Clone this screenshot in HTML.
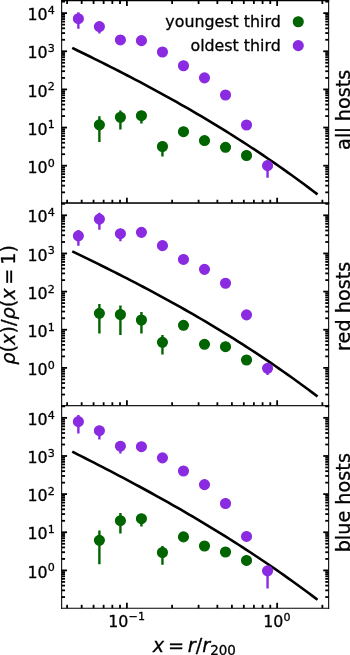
<!DOCTYPE html>
<html><head><meta charset="utf-8"><title>figure</title>
<style>html,body{margin:0;padding:0;background:#fff;}body{width:350px;height:655px;overflow:hidden;}svg{display:block;}
text{font-family:"DejaVu Sans","Liberation Sans",sans-serif;stroke:#000;stroke-width:0.3px;}</style></head>
<body>
<svg width="350" height="655" viewBox="0 0 350 655" version="1.1">
 <defs>
  <style type="text/css">*{stroke-linejoin: round; stroke-linecap: butt}</style>
 </defs>
 <g id="figure_1">
  <g id="patch_1">
   <path d="M 0 655 
L 350 655 
L 350 0 
L 0 0 
z
" style="fill: #ffffff"/>
  </g>
  <g id="axes_1">
   <g id="patch_2">
    <path d="M 61.65 203.133333 
L 328.65 203.133333 
L 328.65 0.6 
L 61.65 0.6 
z
" style="fill: #ffffff"/>
   </g>
   <g id="matplotlib.axis_1">
    <g id="xtick_1">
     <g id="line2d_1">
      <defs>
       <path id="m767da9f0d0" d="M 0 0 
L 0 -5.4 
" style="stroke: #000000; stroke-width: 1.8"/>
      </defs>
      <g>
       <use href="#m767da9f0d0" x="126.9" y="203.133333" style="stroke: #000000; stroke-width: 1.8"/>
      </g>
     </g>
     <g id="line2d_2">
      <defs>
       <path id="m75ea3fade5" d="M 0 0 
L 0 5.4 
" style="stroke: #000000; stroke-width: 1.8"/>
      </defs>
      <g>
       <use href="#m75ea3fade5" x="126.9" y="0.6" style="stroke: #000000; stroke-width: 1.8"/>
      </g>
     </g>
    </g>
    <g id="xtick_2">
     <g id="line2d_3">
      <g>
       <use href="#m767da9f0d0" x="277.15" y="203.133333" style="stroke: #000000; stroke-width: 1.8"/>
      </g>
     </g>
     <g id="line2d_4">
      <g>
       <use href="#m75ea3fade5" x="277.15" y="0.6" style="stroke: #000000; stroke-width: 1.8"/>
      </g>
     </g>
    </g>
    <g id="xtick_3">
     <g id="line2d_5">
      <defs>
       <path id="m100604479f" d="M 0 0 
L 0 -3.4 
" style="stroke: #000000; stroke-width: 1.8"/>
      </defs>
      <g>
       <use href="#m100604479f" x="67.109514" y="203.133333" style="stroke: #000000; stroke-width: 1.8"/>
      </g>
     </g>
     <g id="line2d_6">
      <defs>
       <path id="m76631c6128" d="M 0 0 
L 0 3.4 
" style="stroke: #000000; stroke-width: 1.8"/>
      </defs>
      <g>
       <use href="#m76631c6128" x="67.109514" y="0.6" style="stroke: #000000; stroke-width: 1.8"/>
      </g>
     </g>
    </g>
    <g id="xtick_4">
     <g id="line2d_7">
      <g>
       <use href="#m100604479f" x="81.670243" y="203.133333" style="stroke: #000000; stroke-width: 1.8"/>
      </g>
     </g>
     <g id="line2d_8">
      <g>
       <use href="#m76631c6128" x="81.670243" y="0.6" style="stroke: #000000; stroke-width: 1.8"/>
      </g>
     </g>
    </g>
    <g id="xtick_5">
     <g id="line2d_9">
      <g>
       <use href="#m100604479f" x="93.567225" y="203.133333" style="stroke: #000000; stroke-width: 1.8"/>
      </g>
     </g>
     <g id="line2d_10">
      <g>
       <use href="#m76631c6128" x="93.567225" y="0.6" style="stroke: #000000; stroke-width: 1.8"/>
      </g>
     </g>
    </g>
    <g id="xtick_6">
     <g id="line2d_11">
      <g>
       <use href="#m100604479f" x="103.625981" y="203.133333" style="stroke: #000000; stroke-width: 1.8"/>
      </g>
     </g>
     <g id="line2d_12">
      <g>
       <use href="#m76631c6128" x="103.625981" y="0.6" style="stroke: #000000; stroke-width: 1.8"/>
      </g>
     </g>
    </g>
    <g id="xtick_7">
     <g id="line2d_13">
      <g>
       <use href="#m100604479f" x="112.339271" y="203.133333" style="stroke: #000000; stroke-width: 1.8"/>
      </g>
     </g>
     <g id="line2d_14">
      <g>
       <use href="#m76631c6128" x="112.339271" y="0.6" style="stroke: #000000; stroke-width: 1.8"/>
      </g>
     </g>
    </g>
    <g id="xtick_8">
     <g id="line2d_15">
      <g>
       <use href="#m100604479f" x="120.024937" y="203.133333" style="stroke: #000000; stroke-width: 1.8"/>
      </g>
     </g>
     <g id="line2d_16">
      <g>
       <use href="#m76631c6128" x="120.024937" y="0.6" style="stroke: #000000; stroke-width: 1.8"/>
      </g>
     </g>
    </g>
    <g id="xtick_9">
     <g id="line2d_17">
      <g>
       <use href="#m100604479f" x="172.129757" y="203.133333" style="stroke: #000000; stroke-width: 1.8"/>
      </g>
     </g>
     <g id="line2d_18">
      <g>
       <use href="#m76631c6128" x="172.129757" y="0.6" style="stroke: #000000; stroke-width: 1.8"/>
      </g>
     </g>
    </g>
    <g id="xtick_10">
     <g id="line2d_19">
      <g>
       <use href="#m100604479f" x="198.587469" y="203.133333" style="stroke: #000000; stroke-width: 1.8"/>
      </g>
     </g>
     <g id="line2d_20">
      <g>
       <use href="#m76631c6128" x="198.587469" y="0.6" style="stroke: #000000; stroke-width: 1.8"/>
      </g>
     </g>
    </g>
    <g id="xtick_11">
     <g id="line2d_21">
      <g>
       <use href="#m100604479f" x="217.359514" y="203.133333" style="stroke: #000000; stroke-width: 1.8"/>
      </g>
     </g>
     <g id="line2d_22">
      <g>
       <use href="#m76631c6128" x="217.359514" y="0.6" style="stroke: #000000; stroke-width: 1.8"/>
      </g>
     </g>
    </g>
    <g id="xtick_12">
     <g id="line2d_23">
      <g>
       <use href="#m100604479f" x="231.920243" y="203.133333" style="stroke: #000000; stroke-width: 1.8"/>
      </g>
     </g>
     <g id="line2d_24">
      <g>
       <use href="#m76631c6128" x="231.920243" y="0.6" style="stroke: #000000; stroke-width: 1.8"/>
      </g>
     </g>
    </g>
    <g id="xtick_13">
     <g id="line2d_25">
      <g>
       <use href="#m100604479f" x="243.817225" y="203.133333" style="stroke: #000000; stroke-width: 1.8"/>
      </g>
     </g>
     <g id="line2d_26">
      <g>
       <use href="#m76631c6128" x="243.817225" y="0.6" style="stroke: #000000; stroke-width: 1.8"/>
      </g>
     </g>
    </g>
    <g id="xtick_14">
     <g id="line2d_27">
      <g>
       <use href="#m100604479f" x="253.875981" y="203.133333" style="stroke: #000000; stroke-width: 1.8"/>
      </g>
     </g>
     <g id="line2d_28">
      <g>
       <use href="#m76631c6128" x="253.875981" y="0.6" style="stroke: #000000; stroke-width: 1.8"/>
      </g>
     </g>
    </g>
    <g id="xtick_15">
     <g id="line2d_29">
      <g>
       <use href="#m100604479f" x="262.589271" y="203.133333" style="stroke: #000000; stroke-width: 1.8"/>
      </g>
     </g>
     <g id="line2d_30">
      <g>
       <use href="#m76631c6128" x="262.589271" y="0.6" style="stroke: #000000; stroke-width: 1.8"/>
      </g>
     </g>
    </g>
    <g id="xtick_16">
     <g id="line2d_31">
      <g>
       <use href="#m100604479f" x="270.274937" y="203.133333" style="stroke: #000000; stroke-width: 1.8"/>
      </g>
     </g>
     <g id="line2d_32">
      <g>
       <use href="#m76631c6128" x="270.274937" y="0.6" style="stroke: #000000; stroke-width: 1.8"/>
      </g>
     </g>
    </g>
    <g id="xtick_17">
     <g id="line2d_33">
      <g>
       <use href="#m100604479f" x="322.379757" y="203.133333" style="stroke: #000000; stroke-width: 1.8"/>
      </g>
     </g>
     <g id="line2d_34">
      <g>
       <use href="#m76631c6128" x="322.379757" y="0.6" style="stroke: #000000; stroke-width: 1.8"/>
      </g>
     </g>
    </g>
   </g>
   <g id="matplotlib.axis_2">
    <g id="ytick_1">
     <g id="line2d_35">
      <defs>
       <path id="m73b3d7dea5" d="M 0 0 
L 5.4 0 
" style="stroke: #000000; stroke-width: 1.8"/>
      </defs>
      <g>
       <use href="#m73b3d7dea5" x="61.65" y="165.69" style="stroke: #000000; stroke-width: 1.8"/>
      </g>
     </g>
     <g id="line2d_36">
      <defs>
       <path id="m522f3f3dfc" d="M 0 0 
L -5.4 0 
" style="stroke: #000000; stroke-width: 1.8"/>
      </defs>
      <g>
       <use href="#m522f3f3dfc" x="328.65" y="165.69" style="stroke: #000000; stroke-width: 1.8"/>
      </g>
     </g>
     <g id="text_1">
      <g transform="translate(27.454 173.411762)">
       <text>
        <tspan x="0" y="-0.5625" style="font-size: 15.85px; font-family: 'DejaVu Sans'">1</tspan>
        <tspan x="10.100159" y="-0.5625" style="font-size: 15.85px; font-family: 'DejaVu Sans'">0</tspan>
        <tspan x="20.353442" y="-6.6875" style="font-size: 11.095px; font-family: 'DejaVu Sans'">0</tspan>
       </text>
      </g>
     </g>
    </g>
    <g id="ytick_2">
     <g id="line2d_37">
      <g>
       <use href="#m73b3d7dea5" x="61.65" y="127.55" style="stroke: #000000; stroke-width: 1.8"/>
      </g>
     </g>
     <g id="line2d_38">
      <g>
       <use href="#m522f3f3dfc" x="328.65" y="127.55" style="stroke: #000000; stroke-width: 1.8"/>
      </g>
     </g>
     <g id="text_2">
      <g transform="translate(27.454 135.271762)">
       <text>
        <tspan x="0" y="-0.704688" style="font-size: 15.85px; font-family: 'DejaVu Sans'">1</tspan>
        <tspan x="10.100159" y="-0.704688" style="font-size: 15.85px; font-family: 'DejaVu Sans'">0</tspan>
        <tspan x="20.353442" y="-6.829688" style="font-size: 11.095px; font-family: 'DejaVu Sans'">1</tspan>
       </text>
      </g>
     </g>
    </g>
    <g id="ytick_3">
     <g id="line2d_39">
      <g>
       <use href="#m73b3d7dea5" x="61.65" y="89.41" style="stroke: #000000; stroke-width: 1.8"/>
      </g>
     </g>
     <g id="line2d_40">
      <g>
       <use href="#m522f3f3dfc" x="328.65" y="89.41" style="stroke: #000000; stroke-width: 1.8"/>
      </g>
     </g>
     <g id="text_3">
      <g transform="translate(27.454 97.131762)">
       <text>
        <tspan x="0" y="-0.5625" style="font-size: 15.85px; font-family: 'DejaVu Sans'">1</tspan>
        <tspan x="10.100159" y="-0.5625" style="font-size: 15.85px; font-family: 'DejaVu Sans'">0</tspan>
        <tspan x="20.353442" y="-6.6875" style="font-size: 11.095px; font-family: 'DejaVu Sans'">2</tspan>
       </text>
      </g>
     </g>
    </g>
    <g id="ytick_4">
     <g id="line2d_41">
      <g>
       <use href="#m73b3d7dea5" x="61.65" y="51.27" style="stroke: #000000; stroke-width: 1.8"/>
      </g>
     </g>
     <g id="line2d_42">
      <g>
       <use href="#m522f3f3dfc" x="328.65" y="51.27" style="stroke: #000000; stroke-width: 1.8"/>
      </g>
     </g>
     <g id="text_4">
      <g transform="translate(27.454 58.991762)">
       <text>
        <tspan x="0" y="-0.5625" style="font-size: 15.85px; font-family: 'DejaVu Sans'">1</tspan>
        <tspan x="10.100159" y="-0.5625" style="font-size: 15.85px; font-family: 'DejaVu Sans'">0</tspan>
        <tspan x="20.353442" y="-6.6875" style="font-size: 11.095px; font-family: 'DejaVu Sans'">3</tspan>
       </text>
      </g>
     </g>
    </g>
    <g id="ytick_5">
     <g id="line2d_43">
      <g>
       <use href="#m73b3d7dea5" x="61.65" y="13.13" style="stroke: #000000; stroke-width: 1.8"/>
      </g>
     </g>
     <g id="line2d_44">
      <g>
       <use href="#m522f3f3dfc" x="328.65" y="13.13" style="stroke: #000000; stroke-width: 1.8"/>
      </g>
     </g>
     <g id="text_5">
      <g transform="translate(27.454 20.851762)">
       <text>
        <tspan x="0" y="-0.704688" style="font-size: 15.85px; font-family: 'DejaVu Sans'">1</tspan>
        <tspan x="10.100159" y="-0.704688" style="font-size: 15.85px; font-family: 'DejaVu Sans'">0</tspan>
        <tspan x="20.353442" y="-6.829688" style="font-size: 11.095px; font-family: 'DejaVu Sans'">4</tspan>
       </text>
      </g>
     </g>
    </g>
    <g id="ytick_6">
     <g id="line2d_45">
      <defs>
       <path id="mf752507154" d="M 0 0 
L 3.4 0 
" style="stroke: #000000; stroke-width: 1.8"/>
      </defs>
      <g>
       <use href="#mf752507154" x="61.65" y="192.348716" style="stroke: #000000; stroke-width: 1.8"/>
      </g>
     </g>
     <g id="line2d_46">
      <defs>
       <path id="m5e7ae81988" d="M 0 0 
L -3.4 0 
" style="stroke: #000000; stroke-width: 1.8"/>
      </defs>
      <g>
       <use href="#m5e7ae81988" x="328.65" y="192.348716" style="stroke: #000000; stroke-width: 1.8"/>
      </g>
     </g>
    </g>
    <g id="ytick_7">
     <g id="line2d_47">
      <g>
       <use href="#mf752507154" x="61.65" y="185.632595" style="stroke: #000000; stroke-width: 1.8"/>
      </g>
     </g>
     <g id="line2d_48">
      <g>
       <use href="#m5e7ae81988" x="328.65" y="185.632595" style="stroke: #000000; stroke-width: 1.8"/>
      </g>
     </g>
    </g>
    <g id="ytick_8">
     <g id="line2d_49">
      <g>
       <use href="#mf752507154" x="61.65" y="180.867432" style="stroke: #000000; stroke-width: 1.8"/>
      </g>
     </g>
     <g id="line2d_50">
      <g>
       <use href="#m5e7ae81988" x="328.65" y="180.867432" style="stroke: #000000; stroke-width: 1.8"/>
      </g>
     </g>
    </g>
    <g id="ytick_9">
     <g id="line2d_51">
      <g>
       <use href="#mf752507154" x="61.65" y="177.171284" style="stroke: #000000; stroke-width: 1.8"/>
      </g>
     </g>
     <g id="line2d_52">
      <g>
       <use href="#m5e7ae81988" x="328.65" y="177.171284" style="stroke: #000000; stroke-width: 1.8"/>
      </g>
     </g>
    </g>
    <g id="ytick_10">
     <g id="line2d_53">
      <g>
       <use href="#mf752507154" x="61.65" y="174.151311" style="stroke: #000000; stroke-width: 1.8"/>
      </g>
     </g>
     <g id="line2d_54">
      <g>
       <use href="#m5e7ae81988" x="328.65" y="174.151311" style="stroke: #000000; stroke-width: 1.8"/>
      </g>
     </g>
    </g>
    <g id="ytick_11">
     <g id="line2d_55">
      <g>
       <use href="#mf752507154" x="61.65" y="171.597961" style="stroke: #000000; stroke-width: 1.8"/>
      </g>
     </g>
     <g id="line2d_56">
      <g>
       <use href="#m5e7ae81988" x="328.65" y="171.597961" style="stroke: #000000; stroke-width: 1.8"/>
      </g>
     </g>
    </g>
    <g id="ytick_12">
     <g id="line2d_57">
      <g>
       <use href="#mf752507154" x="61.65" y="169.386148" style="stroke: #000000; stroke-width: 1.8"/>
      </g>
     </g>
     <g id="line2d_58">
      <g>
       <use href="#m5e7ae81988" x="328.65" y="169.386148" style="stroke: #000000; stroke-width: 1.8"/>
      </g>
     </g>
    </g>
    <g id="ytick_13">
     <g id="line2d_59">
      <g>
       <use href="#mf752507154" x="61.65" y="167.435191" style="stroke: #000000; stroke-width: 1.8"/>
      </g>
     </g>
     <g id="line2d_60">
      <g>
       <use href="#m5e7ae81988" x="328.65" y="167.435191" style="stroke: #000000; stroke-width: 1.8"/>
      </g>
     </g>
    </g>
    <g id="ytick_14">
     <g id="line2d_61">
      <g>
       <use href="#mf752507154" x="61.65" y="154.208716" style="stroke: #000000; stroke-width: 1.8"/>
      </g>
     </g>
     <g id="line2d_62">
      <g>
       <use href="#m5e7ae81988" x="328.65" y="154.208716" style="stroke: #000000; stroke-width: 1.8"/>
      </g>
     </g>
    </g>
    <g id="ytick_15">
     <g id="line2d_63">
      <g>
       <use href="#mf752507154" x="61.65" y="147.492595" style="stroke: #000000; stroke-width: 1.8"/>
      </g>
     </g>
     <g id="line2d_64">
      <g>
       <use href="#m5e7ae81988" x="328.65" y="147.492595" style="stroke: #000000; stroke-width: 1.8"/>
      </g>
     </g>
    </g>
    <g id="ytick_16">
     <g id="line2d_65">
      <g>
       <use href="#mf752507154" x="61.65" y="142.727432" style="stroke: #000000; stroke-width: 1.8"/>
      </g>
     </g>
     <g id="line2d_66">
      <g>
       <use href="#m5e7ae81988" x="328.65" y="142.727432" style="stroke: #000000; stroke-width: 1.8"/>
      </g>
     </g>
    </g>
    <g id="ytick_17">
     <g id="line2d_67">
      <g>
       <use href="#mf752507154" x="61.65" y="139.031284" style="stroke: #000000; stroke-width: 1.8"/>
      </g>
     </g>
     <g id="line2d_68">
      <g>
       <use href="#m5e7ae81988" x="328.65" y="139.031284" style="stroke: #000000; stroke-width: 1.8"/>
      </g>
     </g>
    </g>
    <g id="ytick_18">
     <g id="line2d_69">
      <g>
       <use href="#mf752507154" x="61.65" y="136.011311" style="stroke: #000000; stroke-width: 1.8"/>
      </g>
     </g>
     <g id="line2d_70">
      <g>
       <use href="#m5e7ae81988" x="328.65" y="136.011311" style="stroke: #000000; stroke-width: 1.8"/>
      </g>
     </g>
    </g>
    <g id="ytick_19">
     <g id="line2d_71">
      <g>
       <use href="#mf752507154" x="61.65" y="133.457961" style="stroke: #000000; stroke-width: 1.8"/>
      </g>
     </g>
     <g id="line2d_72">
      <g>
       <use href="#m5e7ae81988" x="328.65" y="133.457961" style="stroke: #000000; stroke-width: 1.8"/>
      </g>
     </g>
    </g>
    <g id="ytick_20">
     <g id="line2d_73">
      <g>
       <use href="#mf752507154" x="61.65" y="131.246148" style="stroke: #000000; stroke-width: 1.8"/>
      </g>
     </g>
     <g id="line2d_74">
      <g>
       <use href="#m5e7ae81988" x="328.65" y="131.246148" style="stroke: #000000; stroke-width: 1.8"/>
      </g>
     </g>
    </g>
    <g id="ytick_21">
     <g id="line2d_75">
      <g>
       <use href="#mf752507154" x="61.65" y="129.295191" style="stroke: #000000; stroke-width: 1.8"/>
      </g>
     </g>
     <g id="line2d_76">
      <g>
       <use href="#m5e7ae81988" x="328.65" y="129.295191" style="stroke: #000000; stroke-width: 1.8"/>
      </g>
     </g>
    </g>
    <g id="ytick_22">
     <g id="line2d_77">
      <g>
       <use href="#mf752507154" x="61.65" y="116.068716" style="stroke: #000000; stroke-width: 1.8"/>
      </g>
     </g>
     <g id="line2d_78">
      <g>
       <use href="#m5e7ae81988" x="328.65" y="116.068716" style="stroke: #000000; stroke-width: 1.8"/>
      </g>
     </g>
    </g>
    <g id="ytick_23">
     <g id="line2d_79">
      <g>
       <use href="#mf752507154" x="61.65" y="109.352595" style="stroke: #000000; stroke-width: 1.8"/>
      </g>
     </g>
     <g id="line2d_80">
      <g>
       <use href="#m5e7ae81988" x="328.65" y="109.352595" style="stroke: #000000; stroke-width: 1.8"/>
      </g>
     </g>
    </g>
    <g id="ytick_24">
     <g id="line2d_81">
      <g>
       <use href="#mf752507154" x="61.65" y="104.587432" style="stroke: #000000; stroke-width: 1.8"/>
      </g>
     </g>
     <g id="line2d_82">
      <g>
       <use href="#m5e7ae81988" x="328.65" y="104.587432" style="stroke: #000000; stroke-width: 1.8"/>
      </g>
     </g>
    </g>
    <g id="ytick_25">
     <g id="line2d_83">
      <g>
       <use href="#mf752507154" x="61.65" y="100.891284" style="stroke: #000000; stroke-width: 1.8"/>
      </g>
     </g>
     <g id="line2d_84">
      <g>
       <use href="#m5e7ae81988" x="328.65" y="100.891284" style="stroke: #000000; stroke-width: 1.8"/>
      </g>
     </g>
    </g>
    <g id="ytick_26">
     <g id="line2d_85">
      <g>
       <use href="#mf752507154" x="61.65" y="97.871311" style="stroke: #000000; stroke-width: 1.8"/>
      </g>
     </g>
     <g id="line2d_86">
      <g>
       <use href="#m5e7ae81988" x="328.65" y="97.871311" style="stroke: #000000; stroke-width: 1.8"/>
      </g>
     </g>
    </g>
    <g id="ytick_27">
     <g id="line2d_87">
      <g>
       <use href="#mf752507154" x="61.65" y="95.317961" style="stroke: #000000; stroke-width: 1.8"/>
      </g>
     </g>
     <g id="line2d_88">
      <g>
       <use href="#m5e7ae81988" x="328.65" y="95.317961" style="stroke: #000000; stroke-width: 1.8"/>
      </g>
     </g>
    </g>
    <g id="ytick_28">
     <g id="line2d_89">
      <g>
       <use href="#mf752507154" x="61.65" y="93.106148" style="stroke: #000000; stroke-width: 1.8"/>
      </g>
     </g>
     <g id="line2d_90">
      <g>
       <use href="#m5e7ae81988" x="328.65" y="93.106148" style="stroke: #000000; stroke-width: 1.8"/>
      </g>
     </g>
    </g>
    <g id="ytick_29">
     <g id="line2d_91">
      <g>
       <use href="#mf752507154" x="61.65" y="91.155191" style="stroke: #000000; stroke-width: 1.8"/>
      </g>
     </g>
     <g id="line2d_92">
      <g>
       <use href="#m5e7ae81988" x="328.65" y="91.155191" style="stroke: #000000; stroke-width: 1.8"/>
      </g>
     </g>
    </g>
    <g id="ytick_30">
     <g id="line2d_93">
      <g>
       <use href="#mf752507154" x="61.65" y="77.928716" style="stroke: #000000; stroke-width: 1.8"/>
      </g>
     </g>
     <g id="line2d_94">
      <g>
       <use href="#m5e7ae81988" x="328.65" y="77.928716" style="stroke: #000000; stroke-width: 1.8"/>
      </g>
     </g>
    </g>
    <g id="ytick_31">
     <g id="line2d_95">
      <g>
       <use href="#mf752507154" x="61.65" y="71.212595" style="stroke: #000000; stroke-width: 1.8"/>
      </g>
     </g>
     <g id="line2d_96">
      <g>
       <use href="#m5e7ae81988" x="328.65" y="71.212595" style="stroke: #000000; stroke-width: 1.8"/>
      </g>
     </g>
    </g>
    <g id="ytick_32">
     <g id="line2d_97">
      <g>
       <use href="#mf752507154" x="61.65" y="66.447432" style="stroke: #000000; stroke-width: 1.8"/>
      </g>
     </g>
     <g id="line2d_98">
      <g>
       <use href="#m5e7ae81988" x="328.65" y="66.447432" style="stroke: #000000; stroke-width: 1.8"/>
      </g>
     </g>
    </g>
    <g id="ytick_33">
     <g id="line2d_99">
      <g>
       <use href="#mf752507154" x="61.65" y="62.751284" style="stroke: #000000; stroke-width: 1.8"/>
      </g>
     </g>
     <g id="line2d_100">
      <g>
       <use href="#m5e7ae81988" x="328.65" y="62.751284" style="stroke: #000000; stroke-width: 1.8"/>
      </g>
     </g>
    </g>
    <g id="ytick_34">
     <g id="line2d_101">
      <g>
       <use href="#mf752507154" x="61.65" y="59.731311" style="stroke: #000000; stroke-width: 1.8"/>
      </g>
     </g>
     <g id="line2d_102">
      <g>
       <use href="#m5e7ae81988" x="328.65" y="59.731311" style="stroke: #000000; stroke-width: 1.8"/>
      </g>
     </g>
    </g>
    <g id="ytick_35">
     <g id="line2d_103">
      <g>
       <use href="#mf752507154" x="61.65" y="57.177961" style="stroke: #000000; stroke-width: 1.8"/>
      </g>
     </g>
     <g id="line2d_104">
      <g>
       <use href="#m5e7ae81988" x="328.65" y="57.177961" style="stroke: #000000; stroke-width: 1.8"/>
      </g>
     </g>
    </g>
    <g id="ytick_36">
     <g id="line2d_105">
      <g>
       <use href="#mf752507154" x="61.65" y="54.966148" style="stroke: #000000; stroke-width: 1.8"/>
      </g>
     </g>
     <g id="line2d_106">
      <g>
       <use href="#m5e7ae81988" x="328.65" y="54.966148" style="stroke: #000000; stroke-width: 1.8"/>
      </g>
     </g>
    </g>
    <g id="ytick_37">
     <g id="line2d_107">
      <g>
       <use href="#mf752507154" x="61.65" y="53.015191" style="stroke: #000000; stroke-width: 1.8"/>
      </g>
     </g>
     <g id="line2d_108">
      <g>
       <use href="#m5e7ae81988" x="328.65" y="53.015191" style="stroke: #000000; stroke-width: 1.8"/>
      </g>
     </g>
    </g>
    <g id="ytick_38">
     <g id="line2d_109">
      <g>
       <use href="#mf752507154" x="61.65" y="39.788716" style="stroke: #000000; stroke-width: 1.8"/>
      </g>
     </g>
     <g id="line2d_110">
      <g>
       <use href="#m5e7ae81988" x="328.65" y="39.788716" style="stroke: #000000; stroke-width: 1.8"/>
      </g>
     </g>
    </g>
    <g id="ytick_39">
     <g id="line2d_111">
      <g>
       <use href="#mf752507154" x="61.65" y="33.072595" style="stroke: #000000; stroke-width: 1.8"/>
      </g>
     </g>
     <g id="line2d_112">
      <g>
       <use href="#m5e7ae81988" x="328.65" y="33.072595" style="stroke: #000000; stroke-width: 1.8"/>
      </g>
     </g>
    </g>
    <g id="ytick_40">
     <g id="line2d_113">
      <g>
       <use href="#mf752507154" x="61.65" y="28.307432" style="stroke: #000000; stroke-width: 1.8"/>
      </g>
     </g>
     <g id="line2d_114">
      <g>
       <use href="#m5e7ae81988" x="328.65" y="28.307432" style="stroke: #000000; stroke-width: 1.8"/>
      </g>
     </g>
    </g>
    <g id="ytick_41">
     <g id="line2d_115">
      <g>
       <use href="#mf752507154" x="61.65" y="24.611284" style="stroke: #000000; stroke-width: 1.8"/>
      </g>
     </g>
     <g id="line2d_116">
      <g>
       <use href="#m5e7ae81988" x="328.65" y="24.611284" style="stroke: #000000; stroke-width: 1.8"/>
      </g>
     </g>
    </g>
    <g id="ytick_42">
     <g id="line2d_117">
      <g>
       <use href="#mf752507154" x="61.65" y="21.591311" style="stroke: #000000; stroke-width: 1.8"/>
      </g>
     </g>
     <g id="line2d_118">
      <g>
       <use href="#m5e7ae81988" x="328.65" y="21.591311" style="stroke: #000000; stroke-width: 1.8"/>
      </g>
     </g>
    </g>
    <g id="ytick_43">
     <g id="line2d_119">
      <g>
       <use href="#mf752507154" x="61.65" y="19.037961" style="stroke: #000000; stroke-width: 1.8"/>
      </g>
     </g>
     <g id="line2d_120">
      <g>
       <use href="#m5e7ae81988" x="328.65" y="19.037961" style="stroke: #000000; stroke-width: 1.8"/>
      </g>
     </g>
    </g>
    <g id="ytick_44">
     <g id="line2d_121">
      <g>
       <use href="#mf752507154" x="61.65" y="16.826148" style="stroke: #000000; stroke-width: 1.8"/>
      </g>
     </g>
     <g id="line2d_122">
      <g>
       <use href="#m5e7ae81988" x="328.65" y="16.826148" style="stroke: #000000; stroke-width: 1.8"/>
      </g>
     </g>
    </g>
    <g id="ytick_45">
     <g id="line2d_123">
      <g>
       <use href="#mf752507154" x="61.65" y="14.875191" style="stroke: #000000; stroke-width: 1.8"/>
      </g>
     </g>
     <g id="line2d_124">
      <g>
       <use href="#m5e7ae81988" x="328.65" y="14.875191" style="stroke: #000000; stroke-width: 1.8"/>
      </g>
     </g>
    </g>
    <g id="ytick_46">
     <g id="line2d_125">
      <g>
       <use href="#mf752507154" x="61.65" y="1.648716" style="stroke: #000000; stroke-width: 1.8"/>
      </g>
     </g>
     <g id="line2d_126">
      <g>
       <use href="#m5e7ae81988" x="328.65" y="1.648716" style="stroke: #000000; stroke-width: 1.8"/>
      </g>
     </g>
    </g>
   </g>
   <g id="LineCollection_1">
    <path d="M 78.37 28.86 
L 78.37 12.3 
" clip-path="url(#pb51f2aa040)" style="fill: none; stroke: #8a2be2; stroke-width: 2.4"/>
    <path d="M 99.39 33.5 
L 99.39 24.57 
" clip-path="url(#pb51f2aa040)" style="fill: none; stroke: #8a2be2; stroke-width: 2.4"/>
    <path d="M 120.41 41.94 
L 120.41 37.94 
" clip-path="url(#pb51f2aa040)" style="fill: none; stroke: #8a2be2; stroke-width: 2.4"/>
    <path d="M 141.43 42.63 
L 141.43 38.63 
" clip-path="url(#pb51f2aa040)" style="fill: none; stroke: #8a2be2; stroke-width: 2.4"/>
    <path d="M 162.45 54 
L 162.45 50 
" clip-path="url(#pb51f2aa040)" style="fill: none; stroke: #8a2be2; stroke-width: 2.4"/>
    <path d="M 183.47 67.71 
L 183.47 63.71 
" clip-path="url(#pb51f2aa040)" style="fill: none; stroke: #8a2be2; stroke-width: 2.4"/>
    <path d="M 204.49 79.86 
L 204.49 75.86 
" clip-path="url(#pb51f2aa040)" style="fill: none; stroke: #8a2be2; stroke-width: 2.4"/>
    <path d="M 225.51 97 
L 225.51 93 
" clip-path="url(#pb51f2aa040)" style="fill: none; stroke: #8a2be2; stroke-width: 2.4"/>
    <path d="M 246.53 127 
L 246.53 123 
" clip-path="url(#pb51f2aa040)" style="fill: none; stroke: #8a2be2; stroke-width: 2.4"/>
    <path d="M 267.55 177.7 
L 267.55 163.63 
" clip-path="url(#pb51f2aa040)" style="fill: none; stroke: #8a2be2; stroke-width: 2.4"/>
   </g>
   <g id="LineCollection_2">
    <path d="M 99.39 142.1 
L 99.39 116.2 
" clip-path="url(#pb51f2aa040)" style="fill: none; stroke: #006400; stroke-width: 2.4"/>
    <path d="M 120.41 129.6 
L 120.41 110.4 
" clip-path="url(#pb51f2aa040)" style="fill: none; stroke: #006400; stroke-width: 2.4"/>
    <path d="M 141.43 123.6 
L 141.43 113.7 
" clip-path="url(#pb51f2aa040)" style="fill: none; stroke: #006400; stroke-width: 2.4"/>
    <path d="M 162.45 156.4 
L 162.45 144.5 
" clip-path="url(#pb51f2aa040)" style="fill: none; stroke: #006400; stroke-width: 2.4"/>
    <path d="M 183.47 133.7 
L 183.47 129.7 
" clip-path="url(#pb51f2aa040)" style="fill: none; stroke: #006400; stroke-width: 2.4"/>
    <path d="M 204.49 142.55 
L 204.49 138.55 
" clip-path="url(#pb51f2aa040)" style="fill: none; stroke: #006400; stroke-width: 2.4"/>
    <path d="M 225.51 149.3 
L 225.51 145.3 
" clip-path="url(#pb51f2aa040)" style="fill: none; stroke: #006400; stroke-width: 2.4"/>
    <path d="M 246.53 157.5 
L 246.53 153.5 
" clip-path="url(#pb51f2aa040)" style="fill: none; stroke: #006400; stroke-width: 2.4"/>
   </g>
   <g id="line2d_127">
    <path d="M 73.4 48.493894 
L 77.520339 50.490805 
L 81.640678 52.496635 
L 85.761017 54.511754 
L 89.881356 56.536531 
L 94.001695 58.571335 
L 98.122034 60.616535 
L 102.242373 62.672501 
L 106.362712 64.739603 
L 110.483051 66.818208 
L 114.60339 68.908687 
L 118.723729 71.011409 
L 122.844068 73.126744 
L 126.964407 75.255059 
L 131.084746 77.396726 
L 135.205085 79.552113 
L 139.325424 81.721589 
L 143.445763 83.905523 
L 147.566102 86.104286 
L 151.686441 88.318246 
L 155.80678 90.547773 
L 159.927119 92.793235 
L 164.047458 95.055003 
L 168.167797 97.333445 
L 172.288136 99.628931 
L 176.408475 101.94183 
L 180.528814 104.272511 
L 184.649153 106.621344 
L 188.769492 108.988698 
L 192.889831 111.374942 
L 197.010169 113.780445 
L 201.130508 116.205578 
L 205.250847 118.650708 
L 209.371186 121.116206 
L 213.491525 123.602441 
L 217.611864 126.109782 
L 221.732203 128.638598 
L 225.852542 131.189258 
L 229.972881 133.762132 
L 234.09322 136.35759 
L 238.213559 138.976 
L 242.333898 141.617732 
L 246.454237 144.283155 
L 250.574576 146.972638 
L 254.694915 149.686551 
L 258.815254 152.425263 
L 262.935593 155.189143 
L 267.055932 157.978561 
L 271.176271 160.793885 
L 275.29661 163.635486 
L 279.416949 166.503732 
L 283.537288 169.398993 
L 287.657627 172.321638 
L 291.777966 175.272036 
L 295.898305 178.250557 
L 300.018644 181.257569 
L 304.138983 184.293443 
L 308.259322 187.358548 
L 312.379661 190.453252 
L 316.5 193.577925 
" clip-path="url(#pb51f2aa040)" style="fill: none; stroke: #000000; stroke-width: 2.6; stroke-linecap: square"/>
   </g>
   <g id="line2d_128">
    <defs>
     <path id="mde12a4b6d2" d="M 0 4.9 
C 1.299495 4.9 2.545941 4.383705 3.464823 3.464823 
C 4.383705 2.545941 4.9 1.299495 4.9 0 
C 4.9 -1.299495 4.383705 -2.545941 3.464823 -3.464823 
C 2.545941 -4.383705 1.299495 -4.9 0 -4.9 
C -1.299495 -4.9 -2.545941 -4.383705 -3.464823 -3.464823 
C -4.383705 -2.545941 -4.9 -1.299495 -4.9 0 
C -4.9 1.299495 -4.383705 2.545941 -3.464823 3.464823 
C -2.545941 4.383705 -1.299495 4.9 0 4.9 
z
" style="stroke: #8a2be2; stroke-width: 1.3"/>
    </defs>
    <g clip-path="url(#pb51f2aa040)">
     <use href="#mde12a4b6d2" x="78.37" y="18.7" style="fill: #8a2be2; stroke: #8a2be2; stroke-width: 1.3"/>
     <use href="#mde12a4b6d2" x="99.39" y="26.57" style="fill: #8a2be2; stroke: #8a2be2; stroke-width: 1.3"/>
     <use href="#mde12a4b6d2" x="120.41" y="39.94" style="fill: #8a2be2; stroke: #8a2be2; stroke-width: 1.3"/>
     <use href="#mde12a4b6d2" x="141.43" y="40.63" style="fill: #8a2be2; stroke: #8a2be2; stroke-width: 1.3"/>
     <use href="#mde12a4b6d2" x="162.45" y="52" style="fill: #8a2be2; stroke: #8a2be2; stroke-width: 1.3"/>
     <use href="#mde12a4b6d2" x="183.47" y="65.71" style="fill: #8a2be2; stroke: #8a2be2; stroke-width: 1.3"/>
     <use href="#mde12a4b6d2" x="204.49" y="77.86" style="fill: #8a2be2; stroke: #8a2be2; stroke-width: 1.3"/>
     <use href="#mde12a4b6d2" x="225.51" y="95" style="fill: #8a2be2; stroke: #8a2be2; stroke-width: 1.3"/>
     <use href="#mde12a4b6d2" x="246.53" y="125" style="fill: #8a2be2; stroke: #8a2be2; stroke-width: 1.3"/>
     <use href="#mde12a4b6d2" x="267.55" y="165.63" style="fill: #8a2be2; stroke: #8a2be2; stroke-width: 1.3"/>
    </g>
   </g>
   <g id="line2d_129">
    <defs>
     <path id="m0855ab631a" d="M 0 4.9 
C 1.299495 4.9 2.545941 4.383705 3.464823 3.464823 
C 4.383705 2.545941 4.9 1.299495 4.9 0 
C 4.9 -1.299495 4.383705 -2.545941 3.464823 -3.464823 
C 2.545941 -4.383705 1.299495 -4.9 0 -4.9 
C -1.299495 -4.9 -2.545941 -4.383705 -3.464823 -3.464823 
C -4.383705 -2.545941 -4.9 -1.299495 -4.9 0 
C -4.9 1.299495 -4.383705 2.545941 -3.464823 3.464823 
C -2.545941 4.383705 -1.299495 4.9 0 4.9 
z
" style="stroke: #006400; stroke-width: 1.3"/>
    </defs>
    <g clip-path="url(#pb51f2aa040)">
     <use href="#m0855ab631a" x="99.39" y="124.83" style="fill: #006400; stroke: #006400; stroke-width: 1.3"/>
     <use href="#m0855ab631a" x="120.41" y="117.29" style="fill: #006400; stroke: #006400; stroke-width: 1.3"/>
     <use href="#m0855ab631a" x="141.43" y="115.7" style="fill: #006400; stroke: #006400; stroke-width: 1.3"/>
     <use href="#m0855ab631a" x="162.45" y="146.5" style="fill: #006400; stroke: #006400; stroke-width: 1.3"/>
     <use href="#m0855ab631a" x="183.47" y="131.7" style="fill: #006400; stroke: #006400; stroke-width: 1.3"/>
     <use href="#m0855ab631a" x="204.49" y="140.55" style="fill: #006400; stroke: #006400; stroke-width: 1.3"/>
     <use href="#m0855ab631a" x="225.51" y="147.3" style="fill: #006400; stroke: #006400; stroke-width: 1.3"/>
     <use href="#m0855ab631a" x="246.53" y="155.5" style="fill: #006400; stroke: #006400; stroke-width: 1.3"/>
    </g>
   </g>
   <g id="patch_3">
    <path d="M 61.65 203.133333 
L 61.65 0.6 
" style="fill: none; stroke: #000000; stroke-width: 1.06; stroke-linejoin: miter; stroke-linecap: square"/>
   </g>
   <g id="patch_4">
    <path d="M 328.65 203.133333 
L 328.65 0.6 
" style="fill: none; stroke: #000000; stroke-width: 1.06; stroke-linejoin: miter; stroke-linecap: square"/>
   </g>
   <g id="patch_5">
    <path d="M 61.65 203.133333 
L 328.65 203.133333 
" style="fill: none; stroke: #000000; stroke-width: 1.06; stroke-linejoin: miter; stroke-linecap: square"/>
   </g>
   <g id="patch_6">
    <path d="M 61.65 0.6 
L 328.65 0.6 
" style="fill: none; stroke: #000000; stroke-width: 1.06; stroke-linejoin: miter; stroke-linecap: square"/>
   </g>
   <g id="legend_1">
    <g id="text_6">
     <text style="font-size: 15.85px; font-family: 'DejaVu Sans'; text-anchor: start" x="165.370133" y="27.30853" transform="rotate(-0 165.370133 27.30853)">youngest third</text>
    </g>
    <g id="line2d_130">
     <g>
      <use href="#m0855ab631a" x="298.26" y="21.76103" style="fill: #006400; stroke: #006400; stroke-width: 1.3"/>
     </g>
    </g>
    <g id="text_7">
     <text style="font-size: 15.85px; font-family: 'DejaVu Sans'; text-anchor: start" x="190.437898" y="51.128108" transform="rotate(-0 190.437898 51.128108)">oldest third</text>
    </g>
    <g id="line2d_131">
     <g>
      <use href="#mde12a4b6d2" x="298.26" y="45.580608" style="fill: #8a2be2; stroke: #8a2be2; stroke-width: 1.3"/>
     </g>
    </g>
   </g>
  </g>
  <g id="axes_2">
   <g id="patch_7">
    <path d="M 61.65 405.666667 
L 328.65 405.666667 
L 328.65 203.133333 
L 61.65 203.133333 
z
" style="fill: #ffffff"/>
   </g>
   <g id="matplotlib.axis_3">
    <g id="xtick_18">
     <g id="line2d_132">
      <g>
       <use href="#m767da9f0d0" x="126.9" y="405.666667" style="stroke: #000000; stroke-width: 1.8"/>
      </g>
     </g>
    </g>
    <g id="xtick_19">
     <g id="line2d_133">
      <g>
       <use href="#m767da9f0d0" x="277.15" y="405.666667" style="stroke: #000000; stroke-width: 1.8"/>
      </g>
     </g>
    </g>
    <g id="xtick_20">
     <g id="line2d_134">
      <g>
       <use href="#m100604479f" x="67.109514" y="405.666667" style="stroke: #000000; stroke-width: 1.8"/>
      </g>
     </g>
    </g>
    <g id="xtick_21">
     <g id="line2d_135">
      <g>
       <use href="#m100604479f" x="81.670243" y="405.666667" style="stroke: #000000; stroke-width: 1.8"/>
      </g>
     </g>
    </g>
    <g id="xtick_22">
     <g id="line2d_136">
      <g>
       <use href="#m100604479f" x="93.567225" y="405.666667" style="stroke: #000000; stroke-width: 1.8"/>
      </g>
     </g>
    </g>
    <g id="xtick_23">
     <g id="line2d_137">
      <g>
       <use href="#m100604479f" x="103.625981" y="405.666667" style="stroke: #000000; stroke-width: 1.8"/>
      </g>
     </g>
    </g>
    <g id="xtick_24">
     <g id="line2d_138">
      <g>
       <use href="#m100604479f" x="112.339271" y="405.666667" style="stroke: #000000; stroke-width: 1.8"/>
      </g>
     </g>
    </g>
    <g id="xtick_25">
     <g id="line2d_139">
      <g>
       <use href="#m100604479f" x="120.024937" y="405.666667" style="stroke: #000000; stroke-width: 1.8"/>
      </g>
     </g>
    </g>
    <g id="xtick_26">
     <g id="line2d_140">
      <g>
       <use href="#m100604479f" x="172.129757" y="405.666667" style="stroke: #000000; stroke-width: 1.8"/>
      </g>
     </g>
    </g>
    <g id="xtick_27">
     <g id="line2d_141">
      <g>
       <use href="#m100604479f" x="198.587469" y="405.666667" style="stroke: #000000; stroke-width: 1.8"/>
      </g>
     </g>
    </g>
    <g id="xtick_28">
     <g id="line2d_142">
      <g>
       <use href="#m100604479f" x="217.359514" y="405.666667" style="stroke: #000000; stroke-width: 1.8"/>
      </g>
     </g>
    </g>
    <g id="xtick_29">
     <g id="line2d_143">
      <g>
       <use href="#m100604479f" x="231.920243" y="405.666667" style="stroke: #000000; stroke-width: 1.8"/>
      </g>
     </g>
    </g>
    <g id="xtick_30">
     <g id="line2d_144">
      <g>
       <use href="#m100604479f" x="243.817225" y="405.666667" style="stroke: #000000; stroke-width: 1.8"/>
      </g>
     </g>
    </g>
    <g id="xtick_31">
     <g id="line2d_145">
      <g>
       <use href="#m100604479f" x="253.875981" y="405.666667" style="stroke: #000000; stroke-width: 1.8"/>
      </g>
     </g>
    </g>
    <g id="xtick_32">
     <g id="line2d_146">
      <g>
       <use href="#m100604479f" x="262.589271" y="405.666667" style="stroke: #000000; stroke-width: 1.8"/>
      </g>
     </g>
    </g>
    <g id="xtick_33">
     <g id="line2d_147">
      <g>
       <use href="#m100604479f" x="270.274937" y="405.666667" style="stroke: #000000; stroke-width: 1.8"/>
      </g>
     </g>
    </g>
    <g id="xtick_34">
     <g id="line2d_148">
      <g>
       <use href="#m100604479f" x="322.379757" y="405.666667" style="stroke: #000000; stroke-width: 1.8"/>
      </g>
     </g>
    </g>
   </g>
   <g id="matplotlib.axis_4">
    <g id="ytick_47">
     <g id="line2d_149">
      <g>
       <use href="#m73b3d7dea5" x="61.65" y="367.873333" style="stroke: #000000; stroke-width: 1.8"/>
      </g>
     </g>
     <g id="line2d_150">
      <g>
       <use href="#m522f3f3dfc" x="328.65" y="367.873333" style="stroke: #000000; stroke-width: 1.8"/>
      </g>
     </g>
     <g id="text_8">
      <g transform="translate(27.454 375.595095)">
       <text>
        <tspan x="0" y="-0.5625" style="font-size: 15.85px; font-family: 'DejaVu Sans'">1</tspan>
        <tspan x="10.100159" y="-0.5625" style="font-size: 15.85px; font-family: 'DejaVu Sans'">0</tspan>
        <tspan x="20.353442" y="-6.6875" style="font-size: 11.095px; font-family: 'DejaVu Sans'">0</tspan>
       </text>
      </g>
     </g>
    </g>
    <g id="ytick_48">
     <g id="line2d_151">
      <g>
       <use href="#m73b3d7dea5" x="61.65" y="329.733333" style="stroke: #000000; stroke-width: 1.8"/>
      </g>
     </g>
     <g id="line2d_152">
      <g>
       <use href="#m522f3f3dfc" x="328.65" y="329.733333" style="stroke: #000000; stroke-width: 1.8"/>
      </g>
     </g>
     <g id="text_9">
      <g transform="translate(27.454 337.455095)">
       <text>
        <tspan x="0" y="-0.704688" style="font-size: 15.85px; font-family: 'DejaVu Sans'">1</tspan>
        <tspan x="10.100159" y="-0.704688" style="font-size: 15.85px; font-family: 'DejaVu Sans'">0</tspan>
        <tspan x="20.353442" y="-6.829688" style="font-size: 11.095px; font-family: 'DejaVu Sans'">1</tspan>
       </text>
      </g>
     </g>
    </g>
    <g id="ytick_49">
     <g id="line2d_153">
      <g>
       <use href="#m73b3d7dea5" x="61.65" y="291.593333" style="stroke: #000000; stroke-width: 1.8"/>
      </g>
     </g>
     <g id="line2d_154">
      <g>
       <use href="#m522f3f3dfc" x="328.65" y="291.593333" style="stroke: #000000; stroke-width: 1.8"/>
      </g>
     </g>
     <g id="text_10">
      <g transform="translate(27.454 299.315095)">
       <text>
        <tspan x="0" y="-0.5625" style="font-size: 15.85px; font-family: 'DejaVu Sans'">1</tspan>
        <tspan x="10.100159" y="-0.5625" style="font-size: 15.85px; font-family: 'DejaVu Sans'">0</tspan>
        <tspan x="20.353442" y="-6.6875" style="font-size: 11.095px; font-family: 'DejaVu Sans'">2</tspan>
       </text>
      </g>
     </g>
    </g>
    <g id="ytick_50">
     <g id="line2d_155">
      <g>
       <use href="#m73b3d7dea5" x="61.65" y="253.453333" style="stroke: #000000; stroke-width: 1.8"/>
      </g>
     </g>
     <g id="line2d_156">
      <g>
       <use href="#m522f3f3dfc" x="328.65" y="253.453333" style="stroke: #000000; stroke-width: 1.8"/>
      </g>
     </g>
     <g id="text_11">
      <g transform="translate(27.454 261.175095)">
       <text>
        <tspan x="0" y="-0.5625" style="font-size: 15.85px; font-family: 'DejaVu Sans'">1</tspan>
        <tspan x="10.100159" y="-0.5625" style="font-size: 15.85px; font-family: 'DejaVu Sans'">0</tspan>
        <tspan x="20.353442" y="-6.6875" style="font-size: 11.095px; font-family: 'DejaVu Sans'">3</tspan>
       </text>
      </g>
     </g>
    </g>
    <g id="ytick_51">
     <g id="line2d_157">
      <g>
       <use href="#m73b3d7dea5" x="61.65" y="215.313333" style="stroke: #000000; stroke-width: 1.8"/>
      </g>
     </g>
     <g id="line2d_158">
      <g>
       <use href="#m522f3f3dfc" x="328.65" y="215.313333" style="stroke: #000000; stroke-width: 1.8"/>
      </g>
     </g>
     <g id="text_12">
      <g transform="translate(27.454 223.035095)">
       <text>
        <tspan x="0" y="-0.704688" style="font-size: 15.85px; font-family: 'DejaVu Sans'">1</tspan>
        <tspan x="10.100159" y="-0.704688" style="font-size: 15.85px; font-family: 'DejaVu Sans'">0</tspan>
        <tspan x="20.353442" y="-6.829688" style="font-size: 11.095px; font-family: 'DejaVu Sans'">4</tspan>
       </text>
      </g>
     </g>
    </g>
    <g id="ytick_52">
     <g id="line2d_159">
      <g>
       <use href="#mf752507154" x="61.65" y="394.532049" style="stroke: #000000; stroke-width: 1.8"/>
      </g>
     </g>
     <g id="line2d_160">
      <g>
       <use href="#m5e7ae81988" x="328.65" y="394.532049" style="stroke: #000000; stroke-width: 1.8"/>
      </g>
     </g>
    </g>
    <g id="ytick_53">
     <g id="line2d_161">
      <g>
       <use href="#mf752507154" x="61.65" y="387.815929" style="stroke: #000000; stroke-width: 1.8"/>
      </g>
     </g>
     <g id="line2d_162">
      <g>
       <use href="#m5e7ae81988" x="328.65" y="387.815929" style="stroke: #000000; stroke-width: 1.8"/>
      </g>
     </g>
    </g>
    <g id="ytick_54">
     <g id="line2d_163">
      <g>
       <use href="#mf752507154" x="61.65" y="383.050765" style="stroke: #000000; stroke-width: 1.8"/>
      </g>
     </g>
     <g id="line2d_164">
      <g>
       <use href="#m5e7ae81988" x="328.65" y="383.050765" style="stroke: #000000; stroke-width: 1.8"/>
      </g>
     </g>
    </g>
    <g id="ytick_55">
     <g id="line2d_165">
      <g>
       <use href="#mf752507154" x="61.65" y="379.354617" style="stroke: #000000; stroke-width: 1.8"/>
      </g>
     </g>
     <g id="line2d_166">
      <g>
       <use href="#m5e7ae81988" x="328.65" y="379.354617" style="stroke: #000000; stroke-width: 1.8"/>
      </g>
     </g>
    </g>
    <g id="ytick_56">
     <g id="line2d_167">
      <g>
       <use href="#mf752507154" x="61.65" y="376.334645" style="stroke: #000000; stroke-width: 1.8"/>
      </g>
     </g>
     <g id="line2d_168">
      <g>
       <use href="#m5e7ae81988" x="328.65" y="376.334645" style="stroke: #000000; stroke-width: 1.8"/>
      </g>
     </g>
    </g>
    <g id="ytick_57">
     <g id="line2d_169">
      <g>
       <use href="#mf752507154" x="61.65" y="373.781294" style="stroke: #000000; stroke-width: 1.8"/>
      </g>
     </g>
     <g id="line2d_170">
      <g>
       <use href="#m5e7ae81988" x="328.65" y="373.781294" style="stroke: #000000; stroke-width: 1.8"/>
      </g>
     </g>
    </g>
    <g id="ytick_58">
     <g id="line2d_171">
      <g>
       <use href="#mf752507154" x="61.65" y="371.569481" style="stroke: #000000; stroke-width: 1.8"/>
      </g>
     </g>
     <g id="line2d_172">
      <g>
       <use href="#m5e7ae81988" x="328.65" y="371.569481" style="stroke: #000000; stroke-width: 1.8"/>
      </g>
     </g>
    </g>
    <g id="ytick_59">
     <g id="line2d_173">
      <g>
       <use href="#mf752507154" x="61.65" y="369.618524" style="stroke: #000000; stroke-width: 1.8"/>
      </g>
     </g>
     <g id="line2d_174">
      <g>
       <use href="#m5e7ae81988" x="328.65" y="369.618524" style="stroke: #000000; stroke-width: 1.8"/>
      </g>
     </g>
    </g>
    <g id="ytick_60">
     <g id="line2d_175">
      <g>
       <use href="#mf752507154" x="61.65" y="356.392049" style="stroke: #000000; stroke-width: 1.8"/>
      </g>
     </g>
     <g id="line2d_176">
      <g>
       <use href="#m5e7ae81988" x="328.65" y="356.392049" style="stroke: #000000; stroke-width: 1.8"/>
      </g>
     </g>
    </g>
    <g id="ytick_61">
     <g id="line2d_177">
      <g>
       <use href="#mf752507154" x="61.65" y="349.675929" style="stroke: #000000; stroke-width: 1.8"/>
      </g>
     </g>
     <g id="line2d_178">
      <g>
       <use href="#m5e7ae81988" x="328.65" y="349.675929" style="stroke: #000000; stroke-width: 1.8"/>
      </g>
     </g>
    </g>
    <g id="ytick_62">
     <g id="line2d_179">
      <g>
       <use href="#mf752507154" x="61.65" y="344.910765" style="stroke: #000000; stroke-width: 1.8"/>
      </g>
     </g>
     <g id="line2d_180">
      <g>
       <use href="#m5e7ae81988" x="328.65" y="344.910765" style="stroke: #000000; stroke-width: 1.8"/>
      </g>
     </g>
    </g>
    <g id="ytick_63">
     <g id="line2d_181">
      <g>
       <use href="#mf752507154" x="61.65" y="341.214617" style="stroke: #000000; stroke-width: 1.8"/>
      </g>
     </g>
     <g id="line2d_182">
      <g>
       <use href="#m5e7ae81988" x="328.65" y="341.214617" style="stroke: #000000; stroke-width: 1.8"/>
      </g>
     </g>
    </g>
    <g id="ytick_64">
     <g id="line2d_183">
      <g>
       <use href="#mf752507154" x="61.65" y="338.194645" style="stroke: #000000; stroke-width: 1.8"/>
      </g>
     </g>
     <g id="line2d_184">
      <g>
       <use href="#m5e7ae81988" x="328.65" y="338.194645" style="stroke: #000000; stroke-width: 1.8"/>
      </g>
     </g>
    </g>
    <g id="ytick_65">
     <g id="line2d_185">
      <g>
       <use href="#mf752507154" x="61.65" y="335.641294" style="stroke: #000000; stroke-width: 1.8"/>
      </g>
     </g>
     <g id="line2d_186">
      <g>
       <use href="#m5e7ae81988" x="328.65" y="335.641294" style="stroke: #000000; stroke-width: 1.8"/>
      </g>
     </g>
    </g>
    <g id="ytick_66">
     <g id="line2d_187">
      <g>
       <use href="#mf752507154" x="61.65" y="333.429481" style="stroke: #000000; stroke-width: 1.8"/>
      </g>
     </g>
     <g id="line2d_188">
      <g>
       <use href="#m5e7ae81988" x="328.65" y="333.429481" style="stroke: #000000; stroke-width: 1.8"/>
      </g>
     </g>
    </g>
    <g id="ytick_67">
     <g id="line2d_189">
      <g>
       <use href="#mf752507154" x="61.65" y="331.478524" style="stroke: #000000; stroke-width: 1.8"/>
      </g>
     </g>
     <g id="line2d_190">
      <g>
       <use href="#m5e7ae81988" x="328.65" y="331.478524" style="stroke: #000000; stroke-width: 1.8"/>
      </g>
     </g>
    </g>
    <g id="ytick_68">
     <g id="line2d_191">
      <g>
       <use href="#mf752507154" x="61.65" y="318.252049" style="stroke: #000000; stroke-width: 1.8"/>
      </g>
     </g>
     <g id="line2d_192">
      <g>
       <use href="#m5e7ae81988" x="328.65" y="318.252049" style="stroke: #000000; stroke-width: 1.8"/>
      </g>
     </g>
    </g>
    <g id="ytick_69">
     <g id="line2d_193">
      <g>
       <use href="#mf752507154" x="61.65" y="311.535929" style="stroke: #000000; stroke-width: 1.8"/>
      </g>
     </g>
     <g id="line2d_194">
      <g>
       <use href="#m5e7ae81988" x="328.65" y="311.535929" style="stroke: #000000; stroke-width: 1.8"/>
      </g>
     </g>
    </g>
    <g id="ytick_70">
     <g id="line2d_195">
      <g>
       <use href="#mf752507154" x="61.65" y="306.770765" style="stroke: #000000; stroke-width: 1.8"/>
      </g>
     </g>
     <g id="line2d_196">
      <g>
       <use href="#m5e7ae81988" x="328.65" y="306.770765" style="stroke: #000000; stroke-width: 1.8"/>
      </g>
     </g>
    </g>
    <g id="ytick_71">
     <g id="line2d_197">
      <g>
       <use href="#mf752507154" x="61.65" y="303.074617" style="stroke: #000000; stroke-width: 1.8"/>
      </g>
     </g>
     <g id="line2d_198">
      <g>
       <use href="#m5e7ae81988" x="328.65" y="303.074617" style="stroke: #000000; stroke-width: 1.8"/>
      </g>
     </g>
    </g>
    <g id="ytick_72">
     <g id="line2d_199">
      <g>
       <use href="#mf752507154" x="61.65" y="300.054645" style="stroke: #000000; stroke-width: 1.8"/>
      </g>
     </g>
     <g id="line2d_200">
      <g>
       <use href="#m5e7ae81988" x="328.65" y="300.054645" style="stroke: #000000; stroke-width: 1.8"/>
      </g>
     </g>
    </g>
    <g id="ytick_73">
     <g id="line2d_201">
      <g>
       <use href="#mf752507154" x="61.65" y="297.501294" style="stroke: #000000; stroke-width: 1.8"/>
      </g>
     </g>
     <g id="line2d_202">
      <g>
       <use href="#m5e7ae81988" x="328.65" y="297.501294" style="stroke: #000000; stroke-width: 1.8"/>
      </g>
     </g>
    </g>
    <g id="ytick_74">
     <g id="line2d_203">
      <g>
       <use href="#mf752507154" x="61.65" y="295.289481" style="stroke: #000000; stroke-width: 1.8"/>
      </g>
     </g>
     <g id="line2d_204">
      <g>
       <use href="#m5e7ae81988" x="328.65" y="295.289481" style="stroke: #000000; stroke-width: 1.8"/>
      </g>
     </g>
    </g>
    <g id="ytick_75">
     <g id="line2d_205">
      <g>
       <use href="#mf752507154" x="61.65" y="293.338524" style="stroke: #000000; stroke-width: 1.8"/>
      </g>
     </g>
     <g id="line2d_206">
      <g>
       <use href="#m5e7ae81988" x="328.65" y="293.338524" style="stroke: #000000; stroke-width: 1.8"/>
      </g>
     </g>
    </g>
    <g id="ytick_76">
     <g id="line2d_207">
      <g>
       <use href="#mf752507154" x="61.65" y="280.112049" style="stroke: #000000; stroke-width: 1.8"/>
      </g>
     </g>
     <g id="line2d_208">
      <g>
       <use href="#m5e7ae81988" x="328.65" y="280.112049" style="stroke: #000000; stroke-width: 1.8"/>
      </g>
     </g>
    </g>
    <g id="ytick_77">
     <g id="line2d_209">
      <g>
       <use href="#mf752507154" x="61.65" y="273.395929" style="stroke: #000000; stroke-width: 1.8"/>
      </g>
     </g>
     <g id="line2d_210">
      <g>
       <use href="#m5e7ae81988" x="328.65" y="273.395929" style="stroke: #000000; stroke-width: 1.8"/>
      </g>
     </g>
    </g>
    <g id="ytick_78">
     <g id="line2d_211">
      <g>
       <use href="#mf752507154" x="61.65" y="268.630765" style="stroke: #000000; stroke-width: 1.8"/>
      </g>
     </g>
     <g id="line2d_212">
      <g>
       <use href="#m5e7ae81988" x="328.65" y="268.630765" style="stroke: #000000; stroke-width: 1.8"/>
      </g>
     </g>
    </g>
    <g id="ytick_79">
     <g id="line2d_213">
      <g>
       <use href="#mf752507154" x="61.65" y="264.934617" style="stroke: #000000; stroke-width: 1.8"/>
      </g>
     </g>
     <g id="line2d_214">
      <g>
       <use href="#m5e7ae81988" x="328.65" y="264.934617" style="stroke: #000000; stroke-width: 1.8"/>
      </g>
     </g>
    </g>
    <g id="ytick_80">
     <g id="line2d_215">
      <g>
       <use href="#mf752507154" x="61.65" y="261.914645" style="stroke: #000000; stroke-width: 1.8"/>
      </g>
     </g>
     <g id="line2d_216">
      <g>
       <use href="#m5e7ae81988" x="328.65" y="261.914645" style="stroke: #000000; stroke-width: 1.8"/>
      </g>
     </g>
    </g>
    <g id="ytick_81">
     <g id="line2d_217">
      <g>
       <use href="#mf752507154" x="61.65" y="259.361294" style="stroke: #000000; stroke-width: 1.8"/>
      </g>
     </g>
     <g id="line2d_218">
      <g>
       <use href="#m5e7ae81988" x="328.65" y="259.361294" style="stroke: #000000; stroke-width: 1.8"/>
      </g>
     </g>
    </g>
    <g id="ytick_82">
     <g id="line2d_219">
      <g>
       <use href="#mf752507154" x="61.65" y="257.149481" style="stroke: #000000; stroke-width: 1.8"/>
      </g>
     </g>
     <g id="line2d_220">
      <g>
       <use href="#m5e7ae81988" x="328.65" y="257.149481" style="stroke: #000000; stroke-width: 1.8"/>
      </g>
     </g>
    </g>
    <g id="ytick_83">
     <g id="line2d_221">
      <g>
       <use href="#mf752507154" x="61.65" y="255.198524" style="stroke: #000000; stroke-width: 1.8"/>
      </g>
     </g>
     <g id="line2d_222">
      <g>
       <use href="#m5e7ae81988" x="328.65" y="255.198524" style="stroke: #000000; stroke-width: 1.8"/>
      </g>
     </g>
    </g>
    <g id="ytick_84">
     <g id="line2d_223">
      <g>
       <use href="#mf752507154" x="61.65" y="241.972049" style="stroke: #000000; stroke-width: 1.8"/>
      </g>
     </g>
     <g id="line2d_224">
      <g>
       <use href="#m5e7ae81988" x="328.65" y="241.972049" style="stroke: #000000; stroke-width: 1.8"/>
      </g>
     </g>
    </g>
    <g id="ytick_85">
     <g id="line2d_225">
      <g>
       <use href="#mf752507154" x="61.65" y="235.255929" style="stroke: #000000; stroke-width: 1.8"/>
      </g>
     </g>
     <g id="line2d_226">
      <g>
       <use href="#m5e7ae81988" x="328.65" y="235.255929" style="stroke: #000000; stroke-width: 1.8"/>
      </g>
     </g>
    </g>
    <g id="ytick_86">
     <g id="line2d_227">
      <g>
       <use href="#mf752507154" x="61.65" y="230.490765" style="stroke: #000000; stroke-width: 1.8"/>
      </g>
     </g>
     <g id="line2d_228">
      <g>
       <use href="#m5e7ae81988" x="328.65" y="230.490765" style="stroke: #000000; stroke-width: 1.8"/>
      </g>
     </g>
    </g>
    <g id="ytick_87">
     <g id="line2d_229">
      <g>
       <use href="#mf752507154" x="61.65" y="226.794617" style="stroke: #000000; stroke-width: 1.8"/>
      </g>
     </g>
     <g id="line2d_230">
      <g>
       <use href="#m5e7ae81988" x="328.65" y="226.794617" style="stroke: #000000; stroke-width: 1.8"/>
      </g>
     </g>
    </g>
    <g id="ytick_88">
     <g id="line2d_231">
      <g>
       <use href="#mf752507154" x="61.65" y="223.774645" style="stroke: #000000; stroke-width: 1.8"/>
      </g>
     </g>
     <g id="line2d_232">
      <g>
       <use href="#m5e7ae81988" x="328.65" y="223.774645" style="stroke: #000000; stroke-width: 1.8"/>
      </g>
     </g>
    </g>
    <g id="ytick_89">
     <g id="line2d_233">
      <g>
       <use href="#mf752507154" x="61.65" y="221.221294" style="stroke: #000000; stroke-width: 1.8"/>
      </g>
     </g>
     <g id="line2d_234">
      <g>
       <use href="#m5e7ae81988" x="328.65" y="221.221294" style="stroke: #000000; stroke-width: 1.8"/>
      </g>
     </g>
    </g>
    <g id="ytick_90">
     <g id="line2d_235">
      <g>
       <use href="#mf752507154" x="61.65" y="219.009481" style="stroke: #000000; stroke-width: 1.8"/>
      </g>
     </g>
     <g id="line2d_236">
      <g>
       <use href="#m5e7ae81988" x="328.65" y="219.009481" style="stroke: #000000; stroke-width: 1.8"/>
      </g>
     </g>
    </g>
    <g id="ytick_91">
     <g id="line2d_237">
      <g>
       <use href="#mf752507154" x="61.65" y="217.058524" style="stroke: #000000; stroke-width: 1.8"/>
      </g>
     </g>
     <g id="line2d_238">
      <g>
       <use href="#m5e7ae81988" x="328.65" y="217.058524" style="stroke: #000000; stroke-width: 1.8"/>
      </g>
     </g>
    </g>
    <g id="ytick_92">
     <g id="line2d_239">
      <g>
       <use href="#mf752507154" x="61.65" y="203.832049" style="stroke: #000000; stroke-width: 1.8"/>
      </g>
     </g>
     <g id="line2d_240">
      <g>
       <use href="#m5e7ae81988" x="328.65" y="203.832049" style="stroke: #000000; stroke-width: 1.8"/>
      </g>
     </g>
    </g>
   </g>
   <g id="LineCollection_3">
    <path d="M 78.37 245.8 
L 78.37 229.9 
" clip-path="url(#p190d318180)" style="fill: none; stroke: #8a2be2; stroke-width: 2.4"/>
    <path d="M 99.39 229.86 
L 99.39 212.7 
" clip-path="url(#p190d318180)" style="fill: none; stroke: #8a2be2; stroke-width: 2.4"/>
    <path d="M 120.41 241.3 
L 120.41 231.7 
" clip-path="url(#p190d318180)" style="fill: none; stroke: #8a2be2; stroke-width: 2.4"/>
    <path d="M 141.43 234.34 
L 141.43 230.34 
" clip-path="url(#p190d318180)" style="fill: none; stroke: #8a2be2; stroke-width: 2.4"/>
    <path d="M 162.45 247.63 
L 162.45 243.63 
" clip-path="url(#p190d318180)" style="fill: none; stroke: #8a2be2; stroke-width: 2.4"/>
    <path d="M 183.47 261.43 
L 183.47 257.43 
" clip-path="url(#p190d318180)" style="fill: none; stroke: #8a2be2; stroke-width: 2.4"/>
    <path d="M 204.49 271.34 
L 204.49 267.34 
" clip-path="url(#p190d318180)" style="fill: none; stroke: #8a2be2; stroke-width: 2.4"/>
    <path d="M 225.51 285.23 
L 225.51 281.23 
" clip-path="url(#p190d318180)" style="fill: none; stroke: #8a2be2; stroke-width: 2.4"/>
    <path d="M 246.53 316.86 
L 246.53 312.86 
" clip-path="url(#p190d318180)" style="fill: none; stroke: #8a2be2; stroke-width: 2.4"/>
    <path d="M 267.55 375 
L 267.55 366.3 
" clip-path="url(#p190d318180)" style="fill: none; stroke: #8a2be2; stroke-width: 2.4"/>
   </g>
   <g id="LineCollection_4">
    <path d="M 99.39 333.6 
L 99.39 304 
" clip-path="url(#p190d318180)" style="fill: none; stroke: #006400; stroke-width: 2.4"/>
    <path d="M 120.41 335 
L 120.41 305.6 
" clip-path="url(#p190d318180)" style="fill: none; stroke: #006400; stroke-width: 2.4"/>
    <path d="M 141.43 333.6 
L 141.43 312 
" clip-path="url(#p190d318180)" style="fill: none; stroke: #006400; stroke-width: 2.4"/>
    <path d="M 162.45 354.4 
L 162.45 335 
" clip-path="url(#p190d318180)" style="fill: none; stroke: #006400; stroke-width: 2.4"/>
    <path d="M 183.47 327.3 
L 183.47 323.3 
" clip-path="url(#p190d318180)" style="fill: none; stroke: #006400; stroke-width: 2.4"/>
    <path d="M 204.49 346.3 
L 204.49 342.3 
" clip-path="url(#p190d318180)" style="fill: none; stroke: #006400; stroke-width: 2.4"/>
    <path d="M 225.51 348.7 
L 225.51 344.7 
" clip-path="url(#p190d318180)" style="fill: none; stroke: #006400; stroke-width: 2.4"/>
    <path d="M 246.53 362 
L 246.53 358 
" clip-path="url(#p190d318180)" style="fill: none; stroke: #006400; stroke-width: 2.4"/>
   </g>
   <g id="line2d_241">
    <path d="M 73.4 251.928153 
L 77.520339 253.906111 
L 81.640678 255.892877 
L 85.761017 257.888821 
L 89.881356 259.894312 
L 94.001695 261.909719 
L 98.122034 263.935411 
L 102.242373 265.971759 
L 106.362712 268.019131 
L 110.483051 270.077896 
L 114.60339 272.148423 
L 118.723729 274.231083 
L 122.844068 276.326244 
L 126.964407 278.434276 
L 131.084746 280.555547 
L 135.205085 282.690428 
L 139.325424 284.839288 
L 143.445763 287.002495 
L 147.566102 289.180419 
L 151.686441 291.373429 
L 155.80678 293.581896 
L 159.927119 295.806187 
L 164.047458 298.046672 
L 168.167797 300.303721 
L 172.288136 302.577703 
L 176.408475 304.868987 
L 180.528814 307.177943 
L 184.649153 309.504939 
L 188.769492 311.850345 
L 192.889831 314.214531 
L 197.010169 316.597865 
L 201.130508 319.000717 
L 205.250847 321.423457 
L 209.371186 323.866453 
L 213.491525 326.330074 
L 217.611864 328.814691 
L 221.732203 331.320672 
L 225.852542 333.848387 
L 229.972881 336.398205 
L 234.09322 338.970495 
L 238.213559 341.565627 
L 242.333898 344.18397 
L 246.454237 346.825892 
L 250.574576 349.491765 
L 254.694915 352.181956 
L 258.815254 354.896835 
L 262.935593 357.636771 
L 267.055932 360.402134 
L 271.176271 363.193293 
L 275.29661 366.010618 
L 279.416949 368.854476 
L 283.537288 371.725239 
L 287.657627 374.623275 
L 291.777966 377.548953 
L 295.898305 380.502643 
L 300.018644 383.484714 
L 304.138983 386.495535 
L 308.259322 389.535476 
L 312.379661 392.604905 
L 316.5 395.704193 
" clip-path="url(#p190d318180)" style="fill: none; stroke: #000000; stroke-width: 2.6; stroke-linecap: square"/>
   </g>
   <g id="line2d_242">
    <g clip-path="url(#p190d318180)">
     <use href="#mde12a4b6d2" x="78.37" y="235.86" style="fill: #8a2be2; stroke: #8a2be2; stroke-width: 1.3"/>
     <use href="#mde12a4b6d2" x="99.39" y="219.14" style="fill: #8a2be2; stroke: #8a2be2; stroke-width: 1.3"/>
     <use href="#mde12a4b6d2" x="120.41" y="233.7" style="fill: #8a2be2; stroke: #8a2be2; stroke-width: 1.3"/>
     <use href="#mde12a4b6d2" x="141.43" y="232.34" style="fill: #8a2be2; stroke: #8a2be2; stroke-width: 1.3"/>
     <use href="#mde12a4b6d2" x="162.45" y="245.63" style="fill: #8a2be2; stroke: #8a2be2; stroke-width: 1.3"/>
     <use href="#mde12a4b6d2" x="183.47" y="259.43" style="fill: #8a2be2; stroke: #8a2be2; stroke-width: 1.3"/>
     <use href="#mde12a4b6d2" x="204.49" y="269.34" style="fill: #8a2be2; stroke: #8a2be2; stroke-width: 1.3"/>
     <use href="#mde12a4b6d2" x="225.51" y="283.23" style="fill: #8a2be2; stroke: #8a2be2; stroke-width: 1.3"/>
     <use href="#mde12a4b6d2" x="246.53" y="314.86" style="fill: #8a2be2; stroke: #8a2be2; stroke-width: 1.3"/>
     <use href="#mde12a4b6d2" x="267.55" y="368.3" style="fill: #8a2be2; stroke: #8a2be2; stroke-width: 1.3"/>
    </g>
   </g>
   <g id="line2d_243">
    <g clip-path="url(#p190d318180)">
     <use href="#m0855ab631a" x="99.39" y="313.3" style="fill: #006400; stroke: #006400; stroke-width: 1.3"/>
     <use href="#m0855ab631a" x="120.41" y="314.5" style="fill: #006400; stroke: #006400; stroke-width: 1.3"/>
     <use href="#m0855ab631a" x="141.43" y="320" style="fill: #006400; stroke: #006400; stroke-width: 1.3"/>
     <use href="#m0855ab631a" x="162.45" y="342.3" style="fill: #006400; stroke: #006400; stroke-width: 1.3"/>
     <use href="#m0855ab631a" x="183.47" y="325.3" style="fill: #006400; stroke: #006400; stroke-width: 1.3"/>
     <use href="#m0855ab631a" x="204.49" y="344.3" style="fill: #006400; stroke: #006400; stroke-width: 1.3"/>
     <use href="#m0855ab631a" x="225.51" y="346.7" style="fill: #006400; stroke: #006400; stroke-width: 1.3"/>
     <use href="#m0855ab631a" x="246.53" y="360" style="fill: #006400; stroke: #006400; stroke-width: 1.3"/>
    </g>
   </g>
   <g id="patch_8">
    <path d="M 61.65 405.666667 
L 61.65 203.133333 
" style="fill: none; stroke: #000000; stroke-width: 1.06; stroke-linejoin: miter; stroke-linecap: square"/>
   </g>
   <g id="patch_9">
    <path d="M 328.65 405.666667 
L 328.65 203.133333 
" style="fill: none; stroke: #000000; stroke-width: 1.06; stroke-linejoin: miter; stroke-linecap: square"/>
   </g>
   <g id="patch_10">
    <path d="M 61.65 405.666667 
L 328.65 405.666667 
" style="fill: none; stroke: #000000; stroke-width: 1.06; stroke-linejoin: miter; stroke-linecap: square"/>
   </g>
   <g id="patch_11">
    <path d="M 61.65 203.133333 
L 328.65 203.133333 
" style="fill: none; stroke: #000000; stroke-width: 1.06; stroke-linejoin: miter; stroke-linecap: square"/>
   </g>
  </g>
  <g id="axes_3">
   <g id="patch_12">
    <path d="M 61.65 608.2 
L 328.65 608.2 
L 328.65 405.666667 
L 61.65 405.666667 
z
" style="fill: #ffffff"/>
   </g>
   <g id="matplotlib.axis_5">
    <g id="xtick_35">
     <g id="line2d_244">
      <g>
       <use href="#m767da9f0d0" x="126.9" y="608.2" style="stroke: #000000; stroke-width: 1.8"/>
      </g>
     </g>
     <g id="text_13">
      <g transform="translate(108.27625 627.243523)">
       <text>
        <tspan x="0" y="-0.704688" style="font-size: 15.85px; font-family: 'DejaVu Sans'">1</tspan>
        <tspan x="10.100159" y="-0.704688" style="font-size: 15.85px; font-family: 'DejaVu Sans'">0</tspan>
        <tspan x="20.353442" y="-6.829688" style="font-size: 11.095px; font-family: 'DejaVu Sans'">−</tspan>
        <tspan x="29.664502" y="-6.829688" style="font-size: 11.095px; font-family: 'DejaVu Sans'">1</tspan>
       </text>
      </g>
     </g>
    </g>
    <g id="xtick_36">
     <g id="line2d_245">
      <g>
       <use href="#m767da9f0d0" x="277.15" y="608.2" style="stroke: #000000; stroke-width: 1.8"/>
      </g>
     </g>
     <g id="text_14">
      <g transform="translate(263.202 627.243523)">
       <text>
        <tspan x="0" y="-0.5625" style="font-size: 15.85px; font-family: 'DejaVu Sans'">1</tspan>
        <tspan x="10.100159" y="-0.5625" style="font-size: 15.85px; font-family: 'DejaVu Sans'">0</tspan>
        <tspan x="20.353442" y="-6.6875" style="font-size: 11.095px; font-family: 'DejaVu Sans'">0</tspan>
       </text>
      </g>
     </g>
    </g>
    <g id="xtick_37">
     <g id="line2d_246">
      <g>
       <use href="#m100604479f" x="67.109514" y="608.2" style="stroke: #000000; stroke-width: 1.8"/>
      </g>
     </g>
    </g>
    <g id="xtick_38">
     <g id="line2d_247">
      <g>
       <use href="#m100604479f" x="81.670243" y="608.2" style="stroke: #000000; stroke-width: 1.8"/>
      </g>
     </g>
    </g>
    <g id="xtick_39">
     <g id="line2d_248">
      <g>
       <use href="#m100604479f" x="93.567225" y="608.2" style="stroke: #000000; stroke-width: 1.8"/>
      </g>
     </g>
    </g>
    <g id="xtick_40">
     <g id="line2d_249">
      <g>
       <use href="#m100604479f" x="103.625981" y="608.2" style="stroke: #000000; stroke-width: 1.8"/>
      </g>
     </g>
    </g>
    <g id="xtick_41">
     <g id="line2d_250">
      <g>
       <use href="#m100604479f" x="112.339271" y="608.2" style="stroke: #000000; stroke-width: 1.8"/>
      </g>
     </g>
    </g>
    <g id="xtick_42">
     <g id="line2d_251">
      <g>
       <use href="#m100604479f" x="120.024937" y="608.2" style="stroke: #000000; stroke-width: 1.8"/>
      </g>
     </g>
    </g>
    <g id="xtick_43">
     <g id="line2d_252">
      <g>
       <use href="#m100604479f" x="172.129757" y="608.2" style="stroke: #000000; stroke-width: 1.8"/>
      </g>
     </g>
    </g>
    <g id="xtick_44">
     <g id="line2d_253">
      <g>
       <use href="#m100604479f" x="198.587469" y="608.2" style="stroke: #000000; stroke-width: 1.8"/>
      </g>
     </g>
    </g>
    <g id="xtick_45">
     <g id="line2d_254">
      <g>
       <use href="#m100604479f" x="217.359514" y="608.2" style="stroke: #000000; stroke-width: 1.8"/>
      </g>
     </g>
    </g>
    <g id="xtick_46">
     <g id="line2d_255">
      <g>
       <use href="#m100604479f" x="231.920243" y="608.2" style="stroke: #000000; stroke-width: 1.8"/>
      </g>
     </g>
    </g>
    <g id="xtick_47">
     <g id="line2d_256">
      <g>
       <use href="#m100604479f" x="243.817225" y="608.2" style="stroke: #000000; stroke-width: 1.8"/>
      </g>
     </g>
    </g>
    <g id="xtick_48">
     <g id="line2d_257">
      <g>
       <use href="#m100604479f" x="253.875981" y="608.2" style="stroke: #000000; stroke-width: 1.8"/>
      </g>
     </g>
    </g>
    <g id="xtick_49">
     <g id="line2d_258">
      <g>
       <use href="#m100604479f" x="262.589271" y="608.2" style="stroke: #000000; stroke-width: 1.8"/>
      </g>
     </g>
    </g>
    <g id="xtick_50">
     <g id="line2d_259">
      <g>
       <use href="#m100604479f" x="270.274937" y="608.2" style="stroke: #000000; stroke-width: 1.8"/>
      </g>
     </g>
    </g>
    <g id="xtick_51">
     <g id="line2d_260">
      <g>
       <use href="#m100604479f" x="322.379757" y="608.2" style="stroke: #000000; stroke-width: 1.8"/>
      </g>
     </g>
    </g>
   </g>
   <g id="matplotlib.axis_6">
    <g id="ytick_93">
     <g id="line2d_261">
      <g>
       <use href="#m73b3d7dea5" x="61.65" y="570.406667" style="stroke: #000000; stroke-width: 1.8"/>
      </g>
     </g>
     <g id="line2d_262">
      <g>
       <use href="#m522f3f3dfc" x="328.65" y="570.406667" style="stroke: #000000; stroke-width: 1.8"/>
      </g>
     </g>
     <g id="text_15">
      <g transform="translate(27.454 578.128428)">
       <text>
        <tspan x="0" y="-0.5625" style="font-size: 15.85px; font-family: 'DejaVu Sans'">1</tspan>
        <tspan x="10.100159" y="-0.5625" style="font-size: 15.85px; font-family: 'DejaVu Sans'">0</tspan>
        <tspan x="20.353442" y="-6.6875" style="font-size: 11.095px; font-family: 'DejaVu Sans'">0</tspan>
       </text>
      </g>
     </g>
    </g>
    <g id="ytick_94">
     <g id="line2d_263">
      <g>
       <use href="#m73b3d7dea5" x="61.65" y="532.266667" style="stroke: #000000; stroke-width: 1.8"/>
      </g>
     </g>
     <g id="line2d_264">
      <g>
       <use href="#m522f3f3dfc" x="328.65" y="532.266667" style="stroke: #000000; stroke-width: 1.8"/>
      </g>
     </g>
     <g id="text_16">
      <g transform="translate(27.454 539.988428)">
       <text>
        <tspan x="0" y="-0.704688" style="font-size: 15.85px; font-family: 'DejaVu Sans'">1</tspan>
        <tspan x="10.100159" y="-0.704688" style="font-size: 15.85px; font-family: 'DejaVu Sans'">0</tspan>
        <tspan x="20.353442" y="-6.829688" style="font-size: 11.095px; font-family: 'DejaVu Sans'">1</tspan>
       </text>
      </g>
     </g>
    </g>
    <g id="ytick_95">
     <g id="line2d_265">
      <g>
       <use href="#m73b3d7dea5" x="61.65" y="494.126667" style="stroke: #000000; stroke-width: 1.8"/>
      </g>
     </g>
     <g id="line2d_266">
      <g>
       <use href="#m522f3f3dfc" x="328.65" y="494.126667" style="stroke: #000000; stroke-width: 1.8"/>
      </g>
     </g>
     <g id="text_17">
      <g transform="translate(27.454 501.848428)">
       <text>
        <tspan x="0" y="-0.5625" style="font-size: 15.85px; font-family: 'DejaVu Sans'">1</tspan>
        <tspan x="10.100159" y="-0.5625" style="font-size: 15.85px; font-family: 'DejaVu Sans'">0</tspan>
        <tspan x="20.353442" y="-6.6875" style="font-size: 11.095px; font-family: 'DejaVu Sans'">2</tspan>
       </text>
      </g>
     </g>
    </g>
    <g id="ytick_96">
     <g id="line2d_267">
      <g>
       <use href="#m73b3d7dea5" x="61.65" y="455.986667" style="stroke: #000000; stroke-width: 1.8"/>
      </g>
     </g>
     <g id="line2d_268">
      <g>
       <use href="#m522f3f3dfc" x="328.65" y="455.986667" style="stroke: #000000; stroke-width: 1.8"/>
      </g>
     </g>
     <g id="text_18">
      <g transform="translate(27.454 463.708428)">
       <text>
        <tspan x="0" y="-0.5625" style="font-size: 15.85px; font-family: 'DejaVu Sans'">1</tspan>
        <tspan x="10.100159" y="-0.5625" style="font-size: 15.85px; font-family: 'DejaVu Sans'">0</tspan>
        <tspan x="20.353442" y="-6.6875" style="font-size: 11.095px; font-family: 'DejaVu Sans'">3</tspan>
       </text>
      </g>
     </g>
    </g>
    <g id="ytick_97">
     <g id="line2d_269">
      <g>
       <use href="#m73b3d7dea5" x="61.65" y="417.846667" style="stroke: #000000; stroke-width: 1.8"/>
      </g>
     </g>
     <g id="line2d_270">
      <g>
       <use href="#m522f3f3dfc" x="328.65" y="417.846667" style="stroke: #000000; stroke-width: 1.8"/>
      </g>
     </g>
     <g id="text_19">
      <g transform="translate(27.454 425.568428)">
       <text>
        <tspan x="0" y="-0.704688" style="font-size: 15.85px; font-family: 'DejaVu Sans'">1</tspan>
        <tspan x="10.100159" y="-0.704688" style="font-size: 15.85px; font-family: 'DejaVu Sans'">0</tspan>
        <tspan x="20.353442" y="-6.829688" style="font-size: 11.095px; font-family: 'DejaVu Sans'">4</tspan>
       </text>
      </g>
     </g>
    </g>
    <g id="ytick_98">
     <g id="line2d_271">
      <g>
       <use href="#mf752507154" x="61.65" y="597.065383" style="stroke: #000000; stroke-width: 1.8"/>
      </g>
     </g>
     <g id="line2d_272">
      <g>
       <use href="#m5e7ae81988" x="328.65" y="597.065383" style="stroke: #000000; stroke-width: 1.8"/>
      </g>
     </g>
    </g>
    <g id="ytick_99">
     <g id="line2d_273">
      <g>
       <use href="#mf752507154" x="61.65" y="590.349262" style="stroke: #000000; stroke-width: 1.8"/>
      </g>
     </g>
     <g id="line2d_274">
      <g>
       <use href="#m5e7ae81988" x="328.65" y="590.349262" style="stroke: #000000; stroke-width: 1.8"/>
      </g>
     </g>
    </g>
    <g id="ytick_100">
     <g id="line2d_275">
      <g>
       <use href="#mf752507154" x="61.65" y="585.584099" style="stroke: #000000; stroke-width: 1.8"/>
      </g>
     </g>
     <g id="line2d_276">
      <g>
       <use href="#m5e7ae81988" x="328.65" y="585.584099" style="stroke: #000000; stroke-width: 1.8"/>
      </g>
     </g>
    </g>
    <g id="ytick_101">
     <g id="line2d_277">
      <g>
       <use href="#mf752507154" x="61.65" y="581.887951" style="stroke: #000000; stroke-width: 1.8"/>
      </g>
     </g>
     <g id="line2d_278">
      <g>
       <use href="#m5e7ae81988" x="328.65" y="581.887951" style="stroke: #000000; stroke-width: 1.8"/>
      </g>
     </g>
    </g>
    <g id="ytick_102">
     <g id="line2d_279">
      <g>
       <use href="#mf752507154" x="61.65" y="578.867978" style="stroke: #000000; stroke-width: 1.8"/>
      </g>
     </g>
     <g id="line2d_280">
      <g>
       <use href="#m5e7ae81988" x="328.65" y="578.867978" style="stroke: #000000; stroke-width: 1.8"/>
      </g>
     </g>
    </g>
    <g id="ytick_103">
     <g id="line2d_281">
      <g>
       <use href="#mf752507154" x="61.65" y="576.314627" style="stroke: #000000; stroke-width: 1.8"/>
      </g>
     </g>
     <g id="line2d_282">
      <g>
       <use href="#m5e7ae81988" x="328.65" y="576.314627" style="stroke: #000000; stroke-width: 1.8"/>
      </g>
     </g>
    </g>
    <g id="ytick_104">
     <g id="line2d_283">
      <g>
       <use href="#mf752507154" x="61.65" y="574.102815" style="stroke: #000000; stroke-width: 1.8"/>
      </g>
     </g>
     <g id="line2d_284">
      <g>
       <use href="#m5e7ae81988" x="328.65" y="574.102815" style="stroke: #000000; stroke-width: 1.8"/>
      </g>
     </g>
    </g>
    <g id="ytick_105">
     <g id="line2d_285">
      <g>
       <use href="#mf752507154" x="61.65" y="572.151857" style="stroke: #000000; stroke-width: 1.8"/>
      </g>
     </g>
     <g id="line2d_286">
      <g>
       <use href="#m5e7ae81988" x="328.65" y="572.151857" style="stroke: #000000; stroke-width: 1.8"/>
      </g>
     </g>
    </g>
    <g id="ytick_106">
     <g id="line2d_287">
      <g>
       <use href="#mf752507154" x="61.65" y="558.925383" style="stroke: #000000; stroke-width: 1.8"/>
      </g>
     </g>
     <g id="line2d_288">
      <g>
       <use href="#m5e7ae81988" x="328.65" y="558.925383" style="stroke: #000000; stroke-width: 1.8"/>
      </g>
     </g>
    </g>
    <g id="ytick_107">
     <g id="line2d_289">
      <g>
       <use href="#mf752507154" x="61.65" y="552.209262" style="stroke: #000000; stroke-width: 1.8"/>
      </g>
     </g>
     <g id="line2d_290">
      <g>
       <use href="#m5e7ae81988" x="328.65" y="552.209262" style="stroke: #000000; stroke-width: 1.8"/>
      </g>
     </g>
    </g>
    <g id="ytick_108">
     <g id="line2d_291">
      <g>
       <use href="#mf752507154" x="61.65" y="547.444099" style="stroke: #000000; stroke-width: 1.8"/>
      </g>
     </g>
     <g id="line2d_292">
      <g>
       <use href="#m5e7ae81988" x="328.65" y="547.444099" style="stroke: #000000; stroke-width: 1.8"/>
      </g>
     </g>
    </g>
    <g id="ytick_109">
     <g id="line2d_293">
      <g>
       <use href="#mf752507154" x="61.65" y="543.747951" style="stroke: #000000; stroke-width: 1.8"/>
      </g>
     </g>
     <g id="line2d_294">
      <g>
       <use href="#m5e7ae81988" x="328.65" y="543.747951" style="stroke: #000000; stroke-width: 1.8"/>
      </g>
     </g>
    </g>
    <g id="ytick_110">
     <g id="line2d_295">
      <g>
       <use href="#mf752507154" x="61.65" y="540.727978" style="stroke: #000000; stroke-width: 1.8"/>
      </g>
     </g>
     <g id="line2d_296">
      <g>
       <use href="#m5e7ae81988" x="328.65" y="540.727978" style="stroke: #000000; stroke-width: 1.8"/>
      </g>
     </g>
    </g>
    <g id="ytick_111">
     <g id="line2d_297">
      <g>
       <use href="#mf752507154" x="61.65" y="538.174627" style="stroke: #000000; stroke-width: 1.8"/>
      </g>
     </g>
     <g id="line2d_298">
      <g>
       <use href="#m5e7ae81988" x="328.65" y="538.174627" style="stroke: #000000; stroke-width: 1.8"/>
      </g>
     </g>
    </g>
    <g id="ytick_112">
     <g id="line2d_299">
      <g>
       <use href="#mf752507154" x="61.65" y="535.962815" style="stroke: #000000; stroke-width: 1.8"/>
      </g>
     </g>
     <g id="line2d_300">
      <g>
       <use href="#m5e7ae81988" x="328.65" y="535.962815" style="stroke: #000000; stroke-width: 1.8"/>
      </g>
     </g>
    </g>
    <g id="ytick_113">
     <g id="line2d_301">
      <g>
       <use href="#mf752507154" x="61.65" y="534.011857" style="stroke: #000000; stroke-width: 1.8"/>
      </g>
     </g>
     <g id="line2d_302">
      <g>
       <use href="#m5e7ae81988" x="328.65" y="534.011857" style="stroke: #000000; stroke-width: 1.8"/>
      </g>
     </g>
    </g>
    <g id="ytick_114">
     <g id="line2d_303">
      <g>
       <use href="#mf752507154" x="61.65" y="520.785383" style="stroke: #000000; stroke-width: 1.8"/>
      </g>
     </g>
     <g id="line2d_304">
      <g>
       <use href="#m5e7ae81988" x="328.65" y="520.785383" style="stroke: #000000; stroke-width: 1.8"/>
      </g>
     </g>
    </g>
    <g id="ytick_115">
     <g id="line2d_305">
      <g>
       <use href="#mf752507154" x="61.65" y="514.069262" style="stroke: #000000; stroke-width: 1.8"/>
      </g>
     </g>
     <g id="line2d_306">
      <g>
       <use href="#m5e7ae81988" x="328.65" y="514.069262" style="stroke: #000000; stroke-width: 1.8"/>
      </g>
     </g>
    </g>
    <g id="ytick_116">
     <g id="line2d_307">
      <g>
       <use href="#mf752507154" x="61.65" y="509.304099" style="stroke: #000000; stroke-width: 1.8"/>
      </g>
     </g>
     <g id="line2d_308">
      <g>
       <use href="#m5e7ae81988" x="328.65" y="509.304099" style="stroke: #000000; stroke-width: 1.8"/>
      </g>
     </g>
    </g>
    <g id="ytick_117">
     <g id="line2d_309">
      <g>
       <use href="#mf752507154" x="61.65" y="505.607951" style="stroke: #000000; stroke-width: 1.8"/>
      </g>
     </g>
     <g id="line2d_310">
      <g>
       <use href="#m5e7ae81988" x="328.65" y="505.607951" style="stroke: #000000; stroke-width: 1.8"/>
      </g>
     </g>
    </g>
    <g id="ytick_118">
     <g id="line2d_311">
      <g>
       <use href="#mf752507154" x="61.65" y="502.587978" style="stroke: #000000; stroke-width: 1.8"/>
      </g>
     </g>
     <g id="line2d_312">
      <g>
       <use href="#m5e7ae81988" x="328.65" y="502.587978" style="stroke: #000000; stroke-width: 1.8"/>
      </g>
     </g>
    </g>
    <g id="ytick_119">
     <g id="line2d_313">
      <g>
       <use href="#mf752507154" x="61.65" y="500.034627" style="stroke: #000000; stroke-width: 1.8"/>
      </g>
     </g>
     <g id="line2d_314">
      <g>
       <use href="#m5e7ae81988" x="328.65" y="500.034627" style="stroke: #000000; stroke-width: 1.8"/>
      </g>
     </g>
    </g>
    <g id="ytick_120">
     <g id="line2d_315">
      <g>
       <use href="#mf752507154" x="61.65" y="497.822815" style="stroke: #000000; stroke-width: 1.8"/>
      </g>
     </g>
     <g id="line2d_316">
      <g>
       <use href="#m5e7ae81988" x="328.65" y="497.822815" style="stroke: #000000; stroke-width: 1.8"/>
      </g>
     </g>
    </g>
    <g id="ytick_121">
     <g id="line2d_317">
      <g>
       <use href="#mf752507154" x="61.65" y="495.871857" style="stroke: #000000; stroke-width: 1.8"/>
      </g>
     </g>
     <g id="line2d_318">
      <g>
       <use href="#m5e7ae81988" x="328.65" y="495.871857" style="stroke: #000000; stroke-width: 1.8"/>
      </g>
     </g>
    </g>
    <g id="ytick_122">
     <g id="line2d_319">
      <g>
       <use href="#mf752507154" x="61.65" y="482.645383" style="stroke: #000000; stroke-width: 1.8"/>
      </g>
     </g>
     <g id="line2d_320">
      <g>
       <use href="#m5e7ae81988" x="328.65" y="482.645383" style="stroke: #000000; stroke-width: 1.8"/>
      </g>
     </g>
    </g>
    <g id="ytick_123">
     <g id="line2d_321">
      <g>
       <use href="#mf752507154" x="61.65" y="475.929262" style="stroke: #000000; stroke-width: 1.8"/>
      </g>
     </g>
     <g id="line2d_322">
      <g>
       <use href="#m5e7ae81988" x="328.65" y="475.929262" style="stroke: #000000; stroke-width: 1.8"/>
      </g>
     </g>
    </g>
    <g id="ytick_124">
     <g id="line2d_323">
      <g>
       <use href="#mf752507154" x="61.65" y="471.164099" style="stroke: #000000; stroke-width: 1.8"/>
      </g>
     </g>
     <g id="line2d_324">
      <g>
       <use href="#m5e7ae81988" x="328.65" y="471.164099" style="stroke: #000000; stroke-width: 1.8"/>
      </g>
     </g>
    </g>
    <g id="ytick_125">
     <g id="line2d_325">
      <g>
       <use href="#mf752507154" x="61.65" y="467.467951" style="stroke: #000000; stroke-width: 1.8"/>
      </g>
     </g>
     <g id="line2d_326">
      <g>
       <use href="#m5e7ae81988" x="328.65" y="467.467951" style="stroke: #000000; stroke-width: 1.8"/>
      </g>
     </g>
    </g>
    <g id="ytick_126">
     <g id="line2d_327">
      <g>
       <use href="#mf752507154" x="61.65" y="464.447978" style="stroke: #000000; stroke-width: 1.8"/>
      </g>
     </g>
     <g id="line2d_328">
      <g>
       <use href="#m5e7ae81988" x="328.65" y="464.447978" style="stroke: #000000; stroke-width: 1.8"/>
      </g>
     </g>
    </g>
    <g id="ytick_127">
     <g id="line2d_329">
      <g>
       <use href="#mf752507154" x="61.65" y="461.894627" style="stroke: #000000; stroke-width: 1.8"/>
      </g>
     </g>
     <g id="line2d_330">
      <g>
       <use href="#m5e7ae81988" x="328.65" y="461.894627" style="stroke: #000000; stroke-width: 1.8"/>
      </g>
     </g>
    </g>
    <g id="ytick_128">
     <g id="line2d_331">
      <g>
       <use href="#mf752507154" x="61.65" y="459.682815" style="stroke: #000000; stroke-width: 1.8"/>
      </g>
     </g>
     <g id="line2d_332">
      <g>
       <use href="#m5e7ae81988" x="328.65" y="459.682815" style="stroke: #000000; stroke-width: 1.8"/>
      </g>
     </g>
    </g>
    <g id="ytick_129">
     <g id="line2d_333">
      <g>
       <use href="#mf752507154" x="61.65" y="457.731857" style="stroke: #000000; stroke-width: 1.8"/>
      </g>
     </g>
     <g id="line2d_334">
      <g>
       <use href="#m5e7ae81988" x="328.65" y="457.731857" style="stroke: #000000; stroke-width: 1.8"/>
      </g>
     </g>
    </g>
    <g id="ytick_130">
     <g id="line2d_335">
      <g>
       <use href="#mf752507154" x="61.65" y="444.505383" style="stroke: #000000; stroke-width: 1.8"/>
      </g>
     </g>
     <g id="line2d_336">
      <g>
       <use href="#m5e7ae81988" x="328.65" y="444.505383" style="stroke: #000000; stroke-width: 1.8"/>
      </g>
     </g>
    </g>
    <g id="ytick_131">
     <g id="line2d_337">
      <g>
       <use href="#mf752507154" x="61.65" y="437.789262" style="stroke: #000000; stroke-width: 1.8"/>
      </g>
     </g>
     <g id="line2d_338">
      <g>
       <use href="#m5e7ae81988" x="328.65" y="437.789262" style="stroke: #000000; stroke-width: 1.8"/>
      </g>
     </g>
    </g>
    <g id="ytick_132">
     <g id="line2d_339">
      <g>
       <use href="#mf752507154" x="61.65" y="433.024099" style="stroke: #000000; stroke-width: 1.8"/>
      </g>
     </g>
     <g id="line2d_340">
      <g>
       <use href="#m5e7ae81988" x="328.65" y="433.024099" style="stroke: #000000; stroke-width: 1.8"/>
      </g>
     </g>
    </g>
    <g id="ytick_133">
     <g id="line2d_341">
      <g>
       <use href="#mf752507154" x="61.65" y="429.327951" style="stroke: #000000; stroke-width: 1.8"/>
      </g>
     </g>
     <g id="line2d_342">
      <g>
       <use href="#m5e7ae81988" x="328.65" y="429.327951" style="stroke: #000000; stroke-width: 1.8"/>
      </g>
     </g>
    </g>
    <g id="ytick_134">
     <g id="line2d_343">
      <g>
       <use href="#mf752507154" x="61.65" y="426.307978" style="stroke: #000000; stroke-width: 1.8"/>
      </g>
     </g>
     <g id="line2d_344">
      <g>
       <use href="#m5e7ae81988" x="328.65" y="426.307978" style="stroke: #000000; stroke-width: 1.8"/>
      </g>
     </g>
    </g>
    <g id="ytick_135">
     <g id="line2d_345">
      <g>
       <use href="#mf752507154" x="61.65" y="423.754627" style="stroke: #000000; stroke-width: 1.8"/>
      </g>
     </g>
     <g id="line2d_346">
      <g>
       <use href="#m5e7ae81988" x="328.65" y="423.754627" style="stroke: #000000; stroke-width: 1.8"/>
      </g>
     </g>
    </g>
    <g id="ytick_136">
     <g id="line2d_347">
      <g>
       <use href="#mf752507154" x="61.65" y="421.542815" style="stroke: #000000; stroke-width: 1.8"/>
      </g>
     </g>
     <g id="line2d_348">
      <g>
       <use href="#m5e7ae81988" x="328.65" y="421.542815" style="stroke: #000000; stroke-width: 1.8"/>
      </g>
     </g>
    </g>
    <g id="ytick_137">
     <g id="line2d_349">
      <g>
       <use href="#mf752507154" x="61.65" y="419.591857" style="stroke: #000000; stroke-width: 1.8"/>
      </g>
     </g>
     <g id="line2d_350">
      <g>
       <use href="#m5e7ae81988" x="328.65" y="419.591857" style="stroke: #000000; stroke-width: 1.8"/>
      </g>
     </g>
    </g>
    <g id="ytick_138">
     <g id="line2d_351">
      <g>
       <use href="#mf752507154" x="61.65" y="406.365383" style="stroke: #000000; stroke-width: 1.8"/>
      </g>
     </g>
     <g id="line2d_352">
      <g>
       <use href="#m5e7ae81988" x="328.65" y="406.365383" style="stroke: #000000; stroke-width: 1.8"/>
      </g>
     </g>
    </g>
   </g>
   <g id="LineCollection_5">
    <path d="M 78.37 433.4 
L 78.37 414.9 
" clip-path="url(#pde85a157b8)" style="fill: none; stroke: #8a2be2; stroke-width: 2.4"/>
    <path d="M 99.39 439.4 
L 99.39 428.7 
" clip-path="url(#pde85a157b8)" style="fill: none; stroke: #8a2be2; stroke-width: 2.4"/>
    <path d="M 120.41 453.5 
L 120.41 444.2 
" clip-path="url(#pde85a157b8)" style="fill: none; stroke: #8a2be2; stroke-width: 2.4"/>
    <path d="M 141.43 448.7 
L 141.43 444.7 
" clip-path="url(#pde85a157b8)" style="fill: none; stroke: #8a2be2; stroke-width: 2.4"/>
    <path d="M 162.45 459.86 
L 162.45 455.86 
" clip-path="url(#pde85a157b8)" style="fill: none; stroke: #8a2be2; stroke-width: 2.4"/>
    <path d="M 183.47 473 
L 183.47 469 
" clip-path="url(#pde85a157b8)" style="fill: none; stroke: #8a2be2; stroke-width: 2.4"/>
    <path d="M 204.49 486.6 
L 204.49 482.6 
" clip-path="url(#pde85a157b8)" style="fill: none; stroke: #8a2be2; stroke-width: 2.4"/>
    <path d="M 225.51 505.5 
L 225.51 501.5 
" clip-path="url(#pde85a157b8)" style="fill: none; stroke: #8a2be2; stroke-width: 2.4"/>
    <path d="M 246.53 538.43 
L 246.53 534.43 
" clip-path="url(#pde85a157b8)" style="fill: none; stroke: #8a2be2; stroke-width: 2.4"/>
    <path d="M 267.55 588.4 
L 267.55 568.83 
" clip-path="url(#pde85a157b8)" style="fill: none; stroke: #8a2be2; stroke-width: 2.4"/>
   </g>
   <g id="LineCollection_6">
    <path d="M 99.39 564.2 
L 99.39 530.6 
" clip-path="url(#pde85a157b8)" style="fill: none; stroke: #006400; stroke-width: 2.4"/>
    <path d="M 120.41 533.6 
L 120.41 513 
" clip-path="url(#pde85a157b8)" style="fill: none; stroke: #006400; stroke-width: 2.4"/>
    <path d="M 141.43 526.6 
L 141.43 516.7 
" clip-path="url(#pde85a157b8)" style="fill: none; stroke: #006400; stroke-width: 2.4"/>
    <path d="M 162.45 564.7 
L 162.45 546 
" clip-path="url(#pde85a157b8)" style="fill: none; stroke: #006400; stroke-width: 2.4"/>
    <path d="M 183.47 538.9 
L 183.47 534.9 
" clip-path="url(#pde85a157b8)" style="fill: none; stroke: #006400; stroke-width: 2.4"/>
    <path d="M 204.49 548 
L 204.49 544 
" clip-path="url(#pde85a157b8)" style="fill: none; stroke: #006400; stroke-width: 2.4"/>
    <path d="M 225.51 553.97 
L 225.51 549.97 
" clip-path="url(#pde85a157b8)" style="fill: none; stroke: #006400; stroke-width: 2.4"/>
    <path d="M 246.53 562.43 
L 246.53 558.43 
" clip-path="url(#pde85a157b8)" style="fill: none; stroke: #006400; stroke-width: 2.4"/>
   </g>
   <g id="line2d_353">
    <path d="M 73.4 452.250385 
L 77.520339 454.325023 
L 81.640678 456.406868 
L 85.761017 458.496287 
L 89.881356 460.59365 
L 94.001695 462.699327 
L 98.122034 464.813686 
L 102.242373 466.937098 
L 106.362712 469.06993 
L 110.483051 471.212554 
L 114.60339 473.365337 
L 118.723729 475.528649 
L 122.844068 477.70286 
L 126.964407 479.888338 
L 131.084746 482.085454 
L 135.205085 484.294576 
L 139.325424 486.516073 
L 143.445763 488.750316 
L 147.566102 490.997672 
L 151.686441 493.258513 
L 155.80678 495.533206 
L 159.927119 497.822121 
L 164.047458 500.125628 
L 168.167797 502.444095 
L 172.288136 504.777892 
L 176.408475 507.127389 
L 180.528814 509.492954 
L 184.649153 511.874957 
L 188.769492 514.273767 
L 192.889831 516.689754 
L 197.010169 519.123287 
L 201.130508 521.574734 
L 205.250847 524.044466 
L 209.371186 526.532852 
L 213.491525 529.040261 
L 217.611864 531.567061 
L 221.732203 534.113624 
L 225.852542 536.680317 
L 229.972881 539.267511 
L 234.09322 541.875573 
L 238.213559 544.504875 
L 242.333898 547.155784 
L 246.454237 549.828671 
L 250.574576 552.523905 
L 254.694915 555.241854 
L 258.815254 557.982889 
L 262.935593 560.747378 
L 267.055932 563.535691 
L 271.176271 566.348197 
L 275.29661 569.185265 
L 279.416949 572.047265 
L 283.537288 574.934566 
L 287.657627 577.847538 
L 291.777966 580.786549 
L 295.898305 583.751968 
L 300.018644 586.744166 
L 304.138983 589.763512 
L 308.259322 592.810374 
L 312.379661 595.885122 
L 316.5 598.988125 
" clip-path="url(#pde85a157b8)" style="fill: none; stroke: #000000; stroke-width: 2.6; stroke-linecap: square"/>
   </g>
   <g id="line2d_354">
    <g clip-path="url(#pde85a157b8)">
     <use href="#mde12a4b6d2" x="78.37" y="421.63" style="fill: #8a2be2; stroke: #8a2be2; stroke-width: 1.3"/>
     <use href="#mde12a4b6d2" x="99.39" y="430.7" style="fill: #8a2be2; stroke: #8a2be2; stroke-width: 1.3"/>
     <use href="#mde12a4b6d2" x="120.41" y="446.2" style="fill: #8a2be2; stroke: #8a2be2; stroke-width: 1.3"/>
     <use href="#mde12a4b6d2" x="141.43" y="446.7" style="fill: #8a2be2; stroke: #8a2be2; stroke-width: 1.3"/>
     <use href="#mde12a4b6d2" x="162.45" y="457.86" style="fill: #8a2be2; stroke: #8a2be2; stroke-width: 1.3"/>
     <use href="#mde12a4b6d2" x="183.47" y="471" style="fill: #8a2be2; stroke: #8a2be2; stroke-width: 1.3"/>
     <use href="#mde12a4b6d2" x="204.49" y="484.6" style="fill: #8a2be2; stroke: #8a2be2; stroke-width: 1.3"/>
     <use href="#mde12a4b6d2" x="225.51" y="503.5" style="fill: #8a2be2; stroke: #8a2be2; stroke-width: 1.3"/>
     <use href="#mde12a4b6d2" x="246.53" y="536.43" style="fill: #8a2be2; stroke: #8a2be2; stroke-width: 1.3"/>
     <use href="#mde12a4b6d2" x="267.55" y="570.83" style="fill: #8a2be2; stroke: #8a2be2; stroke-width: 1.3"/>
    </g>
   </g>
   <g id="line2d_355">
    <g clip-path="url(#pde85a157b8)">
     <use href="#m0855ab631a" x="99.39" y="540.3" style="fill: #006400; stroke: #006400; stroke-width: 1.3"/>
     <use href="#m0855ab631a" x="120.41" y="520.7" style="fill: #006400; stroke: #006400; stroke-width: 1.3"/>
     <use href="#m0855ab631a" x="141.43" y="518.7" style="fill: #006400; stroke: #006400; stroke-width: 1.3"/>
     <use href="#m0855ab631a" x="162.45" y="552.5" style="fill: #006400; stroke: #006400; stroke-width: 1.3"/>
     <use href="#m0855ab631a" x="183.47" y="536.9" style="fill: #006400; stroke: #006400; stroke-width: 1.3"/>
     <use href="#m0855ab631a" x="204.49" y="546" style="fill: #006400; stroke: #006400; stroke-width: 1.3"/>
     <use href="#m0855ab631a" x="225.51" y="551.97" style="fill: #006400; stroke: #006400; stroke-width: 1.3"/>
     <use href="#m0855ab631a" x="246.53" y="560.43" style="fill: #006400; stroke: #006400; stroke-width: 1.3"/>
    </g>
   </g>
   <g id="patch_13">
    <path d="M 61.65 608.2 
L 61.65 405.666667 
" style="fill: none; stroke: #000000; stroke-width: 1.06; stroke-linejoin: miter; stroke-linecap: square"/>
   </g>
   <g id="patch_14">
    <path d="M 328.65 608.2 
L 328.65 405.666667 
" style="fill: none; stroke: #000000; stroke-width: 1.06; stroke-linejoin: miter; stroke-linecap: square"/>
   </g>
   <g id="patch_15">
    <path d="M 61.65 608.2 
L 328.65 608.2 
" style="fill: none; stroke: #000000; stroke-width: 1.06; stroke-linejoin: miter; stroke-linecap: square"/>
   </g>
   <g id="patch_16">
    <path d="M 61.65 405.666667 
L 328.65 405.666667 
" style="fill: none; stroke: #000000; stroke-width: 1.06; stroke-linejoin: miter; stroke-linecap: square"/>
   </g>
  </g>
  <g id="text_20">
   <g transform="translate(16 364.6675) rotate(-90)">
    <text>
     <tspan x="0" y="-0.578125" style="font-style: oblique; font-size: 19.25px; font-family: 'DejaVu Sans'">ρ</tspan>
     <tspan x="19.72937" y="-0.578125" style="font-style: oblique; font-size: 19.25px; font-family: 'DejaVu Sans'">x</tspan>
     <tspan x="45.117188" y="-0.578125" style="font-style: oblique; font-size: 19.25px; font-family: 'DejaVu Sans'">ρ</tspan>
     <tspan x="64.846558" y="-0.578125" style="font-style: oblique; font-size: 19.25px; font-family: 'DejaVu Sans'">x</tspan>
     <tspan x="12.219238" y="-0.578125" style="font-size: 19.25px; font-family: 'DejaVu Sans'">(</tspan>
     <tspan x="31.12146" y="-0.578125" style="font-size: 19.25px; font-family: 'DejaVu Sans'">)</tspan>
     <tspan x="38.631592" y="-0.578125" style="font-size: 19.25px; font-family: 'DejaVu Sans'">/</tspan>
     <tspan x="57.336426" y="-0.578125" style="font-size: 19.25px; font-family: 'DejaVu Sans'">(</tspan>
     <tspan x="79.989014" y="-0.578125" style="font-size: 19.25px; font-family: 'DejaVu Sans'">=</tspan>
     <tspan x="99.868774" y="-0.578125" style="font-size: 19.25px; font-family: 'DejaVu Sans'">1</tspan>
     <tspan x="112.116211" y="-0.578125" style="font-size: 19.25px; font-family: 'DejaVu Sans'">)</tspan>
    </text>
   </g>
  </g>
  <g id="text_21">
   <g transform="translate(152.8 652.5)">
    <text>
     <tspan x="0" y="-0.15625" style="font-style: oblique; font-size: 19.25px; font-family: 'DejaVu Sans'">x</tspan>
     <tspan x="35.022217" y="-0.15625" style="font-style: oblique; font-size: 19.25px; font-family: 'DejaVu Sans'">r</tspan>
     <tspan x="49.422119" y="-0.15625" style="font-style: oblique; font-size: 19.25px; font-family: 'DejaVu Sans'">r</tspan>
     <tspan x="15.142456" y="-0.15625" style="font-size: 19.25px; font-family: 'DejaVu Sans'">=</tspan>
     <tspan x="42.936523" y="-0.15625" style="font-size: 19.25px; font-family: 'DejaVu Sans'">/</tspan>
     <tspan x="57.336426" y="2.960938" style="font-size: 13.475px; font-family: 'DejaVu Sans'">2</tspan>
     <tspan x="65.909631" y="2.960938" style="font-size: 13.475px; font-family: 'DejaVu Sans'">0</tspan>
     <tspan x="74.482837" y="2.960938" style="font-size: 13.475px; font-family: 'DejaVu Sans'">0</tspan>
    </text>
   </g>
  </g>
  <g id="text_22">
   <text style="font-size: 19.25px; font-family: 'DejaVu Sans'; text-anchor: middle" x="350.2" y="109.8" transform="rotate(-90 350.2 109.8)">all hosts</text>
  </g>
  <g id="text_23">
   <text style="font-size: 19.25px; font-family: 'DejaVu Sans'; text-anchor: middle" x="350.2" y="306.25" transform="rotate(-90 350.2 306.25)">red hosts</text>
  </g>
  <g id="text_24">
   <text style="font-size: 19.25px; font-family: 'DejaVu Sans'; text-anchor: middle" x="350.2" y="502.7" transform="rotate(-90 350.2 502.7)">blue hosts</text>
  </g>
 </g>
 <defs>
  <clipPath id="pb51f2aa040">
   <rect x="61.65" y="0.6" width="267" height="202.533333"/>
  </clipPath>
  <clipPath id="p190d318180">
   <rect x="61.65" y="203.133333" width="267" height="202.533333"/>
  </clipPath>
  <clipPath id="pde85a157b8">
   <rect x="61.65" y="405.666667" width="267" height="202.533333"/>
  </clipPath>
 </defs>
</svg>

</body></html>
